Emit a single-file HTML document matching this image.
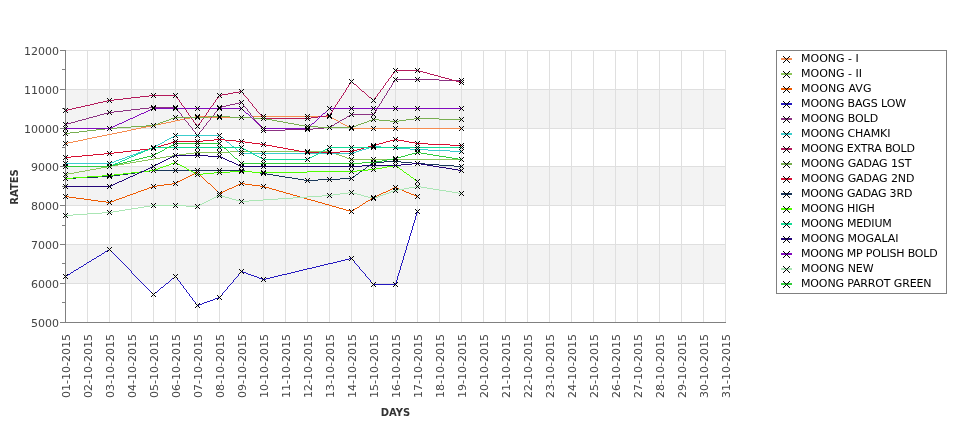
<!DOCTYPE html><html><head><meta charset="utf-8"><style>html,body{margin:0;padding:0;background:#fff;}svg{display:block;will-change:transform;}text{font-family:"DejaVu Sans","Liberation Sans",sans-serif;}</style></head><body>
<svg width="975" height="429" viewBox="0 0 975 429">
<rect width="975" height="429" fill="#fff"/>
<rect x="66" y="89" width="660" height="39" fill="#f3f3f3"/>
<rect x="66" y="166" width="660" height="39" fill="#f3f3f3"/>
<rect x="66" y="244" width="660" height="39" fill="#f3f3f3"/>
<path d="M87.5 50V322 M109.5 50V322 M131.5 50V322 M153.5 50V322 M175.5 50V322 M197.5 50V322 M219.5 50V322 M241.5 50V322 M263.5 50V322 M285.5 50V322 M307.5 50V322 M329.5 50V322 M351.5 50V322 M373.5 50V322 M395.5 50V322 M417.5 50V322 M439.5 50V322 M461.5 50V322 M483.5 50V322 M505.5 50V322 M527.5 50V322 M549.5 50V322 M571.5 50V322 M593.5 50V322 M615.5 50V322 M637.5 50V322 M659.5 50V322 M681.5 50V322 M703.5 50V322 M725.5 50V322 M66 50.5H726 M66 89.5H726 M66 128.5H726 M66 166.5H726 M66 205.5H726 M66 244.5H726 M66 283.5H726" stroke="#dfdfdf" stroke-width="1" fill="none" shape-rendering="crispEdges"/>
<path d="M65.5 50V322.5 M60 322.5H726 M60 50.5H65 M60 89.5H65 M60 128.5H65 M60 166.5H65 M60 205.5H65 M60 244.5H65 M60 283.5H65 M60 322.5H65 M62 69.5H65 M62 108.5H65 M62 147.5H65 M62 186.5H65 M62 225.5H65 M62 263.5H65 M62 302.5H65" stroke="#808080" stroke-width="1" fill="none" shape-rendering="crispEdges"/>
<text x="59" y="55" font-size="11" fill="#444" text-anchor="end">12000</text>
<text x="59" y="94" font-size="11" fill="#444" text-anchor="end">11000</text>
<text x="59" y="133" font-size="11" fill="#444" text-anchor="end">10000</text>
<text x="59" y="171" font-size="11" fill="#444" text-anchor="end">9000</text>
<text x="59" y="210" font-size="11" fill="#444" text-anchor="end">8000</text>
<text x="59" y="249" font-size="11" fill="#444" text-anchor="end">7000</text>
<text x="59" y="288" font-size="11" fill="#444" text-anchor="end">6000</text>
<text x="59" y="327" font-size="11" fill="#444" text-anchor="end">5000</text>
<text transform="translate(70,398) rotate(-90)" font-size="11" fill="#444">01-10-2015</text>
<text transform="translate(92,398) rotate(-90)" font-size="11" fill="#444">02-10-2015</text>
<text transform="translate(114,398) rotate(-90)" font-size="11" fill="#444">03-10-2015</text>
<text transform="translate(136,398) rotate(-90)" font-size="11" fill="#444">04-10-2015</text>
<text transform="translate(158,398) rotate(-90)" font-size="11" fill="#444">05-10-2015</text>
<text transform="translate(180,398) rotate(-90)" font-size="11" fill="#444">06-10-2015</text>
<text transform="translate(202,398) rotate(-90)" font-size="11" fill="#444">07-10-2015</text>
<text transform="translate(224,398) rotate(-90)" font-size="11" fill="#444">08-10-2015</text>
<text transform="translate(246,398) rotate(-90)" font-size="11" fill="#444">09-10-2015</text>
<text transform="translate(268,398) rotate(-90)" font-size="11" fill="#444">10-10-2015</text>
<text transform="translate(290,398) rotate(-90)" font-size="11" fill="#444">11-10-2015</text>
<text transform="translate(312,398) rotate(-90)" font-size="11" fill="#444">12-10-2015</text>
<text transform="translate(334,398) rotate(-90)" font-size="11" fill="#444">13-10-2015</text>
<text transform="translate(356,398) rotate(-90)" font-size="11" fill="#444">14-10-2015</text>
<text transform="translate(378,398) rotate(-90)" font-size="11" fill="#444">15-10-2015</text>
<text transform="translate(400,398) rotate(-90)" font-size="11" fill="#444">16-10-2015</text>
<text transform="translate(422,398) rotate(-90)" font-size="11" fill="#444">17-10-2015</text>
<text transform="translate(444,398) rotate(-90)" font-size="11" fill="#444">18-10-2015</text>
<text transform="translate(466,398) rotate(-90)" font-size="11" fill="#444">19-10-2015</text>
<text transform="translate(488,398) rotate(-90)" font-size="11" fill="#444">20-10-2015</text>
<text transform="translate(510,398) rotate(-90)" font-size="11" fill="#444">21-10-2015</text>
<text transform="translate(532,398) rotate(-90)" font-size="11" fill="#444">22-10-2015</text>
<text transform="translate(554,398) rotate(-90)" font-size="11" fill="#444">23-10-2015</text>
<text transform="translate(576,398) rotate(-90)" font-size="11" fill="#444">24-10-2015</text>
<text transform="translate(598,398) rotate(-90)" font-size="11" fill="#444">25-10-2015</text>
<text transform="translate(620,398) rotate(-90)" font-size="11" fill="#444">26-10-2015</text>
<text transform="translate(642,398) rotate(-90)" font-size="11" fill="#444">27-10-2015</text>
<text transform="translate(664,398) rotate(-90)" font-size="11" fill="#444">28-10-2015</text>
<text transform="translate(686,398) rotate(-90)" font-size="11" fill="#444">29-10-2015</text>
<text transform="translate(708,398) rotate(-90)" font-size="11" fill="#444">30-10-2015</text>
<text transform="translate(730,398) rotate(-90)" font-size="11" fill="#444">31-10-2015</text>
<defs><filter id="crisp" x="-10%" y="-10%" width="120%" height="120%"><feComponentTransfer><feFuncA type="discrete" tableValues="0 0 1 1"/></feComponentTransfer></filter></defs>
<g><text transform="translate(18,187) rotate(-90)" font-size="10" font-weight="bold" fill="#333" text-anchor="middle">RATES</text>
<text x="395.5" y="416" font-size="10" font-weight="bold" fill="#333" text-anchor="middle">DAYS</text></g>
<path d="M190 117h5v1h-5zM208 117h44v1h-44zM330 117h2v1h-2zM83 139h4v1h-4zM195 116h13v1h-13zM252 116h78v1h-78zM141 127h5v1h-5zM349 127h2v1h-2zM136 128h5v1h-5zM351 128h111v1h-111zM97 136h5v1h-5zM65 143h3v1h-3zM151 125h5v1h-5zM345 125h2v1h-2zM171 121h4v1h-4zM338 121h2v1h-2zM112 133h5v1h-5zM78 140h5v1h-5zM161 123h5v1h-5zM341 123h2v1h-2zM131 129h5v1h-5zM180 119h5v1h-5zM334 119h2v1h-2zM92 137h5v1h-5zM185 118h5v1h-5zM332 118h2v1h-2zM117 132h5v1h-5zM166 122h5v1h-5zM340 122h1v1h-1zM127 130h4v1h-4zM146 126h5v1h-5zM347 126h2v1h-2zM87 138h5v1h-5zM73 141h5v1h-5zM175 120h5v1h-5zM336 120h2v1h-2zM107 134h5v1h-5zM68 142h5v1h-5zM102 135h5v1h-5zM156 124h5v1h-5zM343 124h2v1h-2zM122 131h5v1h-5z" fill="#f58c50" shape-rendering="crispEdges"/>
<path d="M148 159h6v1h-6zM350 159h112v1h-112zM172 155h7v1h-7zM339 155h3v1h-3zM230 151h101v1h-101zM124 163h6v1h-6zM160 157h6v1h-6zM345 157h2v1h-2zM154 158h6v1h-6zM347 158h3v1h-3zM112 165h6v1h-6zM90 169h6v1h-6zM194 152h36v1h-36zM331 152h3v1h-3zM85 170h5v1h-5zM101 167h6v1h-6zM142 160h6v1h-6zM107 166h5v1h-5zM79 171h6v1h-6zM65 174h3v1h-3zM179 154h7v1h-7zM336 154h3v1h-3zM74 172h5v1h-5zM130 162h6v1h-6zM186 153h8v1h-8zM334 153h2v1h-2zM166 156h6v1h-6zM342 156h3v1h-3zM136 161h6v1h-6zM68 173h6v1h-6zM96 168h5v1h-5zM118 164h6v1h-6z" fill="#8ec65c" shape-rendering="crispEdges"/>
<path d="M91 200h7v1h-7zM114 200h2v1h-2zM311 200h4v1h-4zM368 200h2v1h-2zM133 193h3v1h-3zM219 193h2v1h-2zM286 193h4v1h-4zM381 193h2v1h-2zM409 193h2v1h-2zM157 185h7v1h-7zM211 185h1v1h-1zM236 185h2v1h-2zM252 185h8v1h-8zM127 195h3v1h-3zM293 195h4v1h-4zM377 195h2v1h-2zM414 195h2v1h-2zM149 187h3v1h-3zM213 187h1v1h-1zM232 187h2v1h-2zM265 187h4v1h-4zM394 187h3v1h-3zM84 199h7v1h-7zM116 199h3v1h-3zM307 199h4v1h-4zM370 199h1v1h-1zM196 172h2v1h-2zM76 198h8v1h-8zM119 198h3v1h-3zM304 198h3v1h-3zM371 198h2v1h-2zM325 204h4v1h-4zM362 204h1v1h-1zM164 184h8v1h-8zM210 184h1v1h-1zM238 184h2v1h-2zM245 184h7v1h-7zM343 209h3v1h-3zM354 209h1v1h-1zM144 189h3v1h-3zM215 189h1v1h-1zM227 189h2v1h-2zM272 189h4v1h-4zM390 189h2v1h-2zM399 189h3v1h-3zM98 201h8v1h-8zM111 201h3v1h-3zM315 201h3v1h-3zM366 201h2v1h-2zM147 188h2v1h-2zM214 188h1v1h-1zM229 188h3v1h-3zM269 188h3v1h-3zM392 188h2v1h-2zM397 188h2v1h-2zM69 197h7v1h-7zM122 197h3v1h-3zM300 197h4v1h-4zM373 197h2v1h-2zM141 190h3v1h-3zM216 190h1v1h-1zM225 190h2v1h-2zM276 190h3v1h-3zM388 190h2v1h-2zM402 190h2v1h-2zM136 192h2v1h-2zM218 192h1v1h-1zM221 192h2v1h-2zM283 192h3v1h-3zM383 192h3v1h-3zM406 192h3v1h-3zM65 196h4v1h-4zM125 196h2v1h-2zM297 196h3v1h-3zM375 196h2v1h-2zM416 196h2v1h-2zM172 183h4v1h-4zM208 183h2v1h-2zM240 183h5v1h-5zM106 202h5v1h-5zM318 202h4v1h-4zM365 202h1v1h-1zM192 174h2v1h-2zM199 174h1v1h-1zM350 211h2v1h-2zM138 191h3v1h-3zM217 191h1v1h-1zM223 191h2v1h-2zM279 191h4v1h-4zM386 191h2v1h-2zM404 191h2v1h-2zM322 203h3v1h-3zM363 203h2v1h-2zM130 194h3v1h-3zM290 194h3v1h-3zM379 194h2v1h-2zM411 194h3v1h-3zM184 178h2v1h-2zM203 178h1v1h-1zM346 210h4v1h-4zM352 210h2v1h-2zM152 186h5v1h-5zM212 186h1v1h-1zM234 186h2v1h-2zM260 186h5v1h-5zM188 176h2v1h-2zM201 176h1v1h-1zM186 177h2v1h-2zM202 177h1v1h-1zM329 205h3v1h-3zM360 205h2v1h-2zM194 173h2v1h-2zM198 173h1v1h-1zM332 206h4v1h-4zM359 206h1v1h-1zM336 207h3v1h-3zM357 207h2v1h-2zM182 179h2v1h-2zM204 179h1v1h-1zM339 208h4v1h-4zM355 208h2v1h-2zM178 181h2v1h-2zM206 181h1v1h-1zM180 180h2v1h-2zM205 180h1v1h-1zM190 175h2v1h-2zM200 175h1v1h-1zM176 182h2v1h-2zM207 182h1v1h-1z" fill="#ee5a00" shape-rendering="crispEdges"/>
<path d="M140 281h1v1h-1zM169 281h1v1h-1zM179 281h1v1h-1zM233 281h1v1h-1zM370 281h1v1h-1zM396 281h1v1h-1zM74 270h2v1h-2zM130 270h1v1h-1zM299 270h4v1h-4zM361 270h1v1h-1zM399 270h1v1h-1zM68 274h2v1h-2zM133 274h1v1h-1zM238 274h1v1h-1zM248 274h3v1h-3zM282 274h5v1h-5zM365 274h1v1h-1zM398 274h1v1h-1zM70 273h1v1h-1zM132 273h1v1h-1zM239 273h1v1h-1zM246 273h2v1h-2zM287 273h4v1h-4zM364 273h1v1h-1zM398 273h1v1h-1zM195 302h1v1h-1zM204 302h3v1h-3zM141 282h1v1h-1zM168 282h1v1h-1zM180 282h1v1h-1zM232 282h1v1h-1zM371 282h1v1h-1zM396 282h1v1h-1zM83 265h1v1h-1zM125 265h1v1h-1zM320 265h4v1h-4zM357 265h1v1h-1zM401 265h1v1h-1zM92 259h2v1h-2zM119 259h1v1h-1zM345 259h4v1h-4zM352 259h1v1h-1zM403 259h1v1h-1zM407 243h1v1h-1zM84 264h2v1h-2zM124 264h1v1h-1zM324 264h4v1h-4zM356 264h1v1h-1zM401 264h1v1h-1zM105 251h2v1h-2zM111 251h1v1h-1zM405 251h1v1h-1zM145 286h1v1h-1zM163 286h1v1h-1zM183 286h1v1h-1zM228 286h1v1h-1zM78 268h1v1h-1zM128 268h1v1h-1zM307 268h5v1h-5zM359 268h1v1h-1zM400 268h1v1h-1zM153 294h1v1h-1zM189 294h1v1h-1zM222 294h1v1h-1zM143 284h1v1h-1zM165 284h1v1h-1zM181 284h1v1h-1zM230 284h1v1h-1zM373 284h23v1h-23zM147 288h1v1h-1zM160 288h1v1h-1zM184 288h1v1h-1zM227 288h1v1h-1zM193 300h1v1h-1zM210 300h3v1h-3zM73 271h1v1h-1zM131 271h1v1h-1zM241 271h2v1h-2zM295 271h4v1h-4zM362 271h1v1h-1zM399 271h1v1h-1zM148 289h1v1h-1zM159 289h1v1h-1zM185 289h1v1h-1zM226 289h1v1h-1zM151 292h1v1h-1zM155 292h2v1h-2zM187 292h1v1h-1zM223 292h1v1h-1zM136 277h1v1h-1zM174 277h1v1h-1zM176 277h1v1h-1zM236 277h1v1h-1zM257 277h2v1h-2zM270 277h4v1h-4zM367 277h1v1h-1zM397 277h1v1h-1zM138 279h1v1h-1zM171 279h1v1h-1zM177 279h1v1h-1zM234 279h1v1h-1zM262 279h4v1h-4zM369 279h1v1h-1zM397 279h1v1h-1zM137 278h1v1h-1zM172 278h2v1h-2zM177 278h1v1h-1zM235 278h1v1h-1zM259 278h3v1h-3zM266 278h4v1h-4zM368 278h1v1h-1zM397 278h1v1h-1zM139 280h1v1h-1zM170 280h1v1h-1zM178 280h1v1h-1zM233 280h1v1h-1zM370 280h1v1h-1zM396 280h1v1h-1zM79 267h2v1h-2zM127 267h1v1h-1zM312 267h4v1h-4zM359 267h1v1h-1zM400 267h1v1h-1zM411 231h1v1h-1zM87 262h2v1h-2zM122 262h1v1h-1zM333 262h4v1h-4zM354 262h1v1h-1zM402 262h1v1h-1zM196 304h1v1h-1zM199 304h3v1h-3zM97 256h2v1h-2zM116 256h1v1h-1zM403 256h1v1h-1zM89 261h2v1h-2zM121 261h1v1h-1zM337 261h4v1h-4zM354 261h1v1h-1zM402 261h1v1h-1zM415 219h1v1h-1zM81 266h2v1h-2zM126 266h1v1h-1zM316 266h4v1h-4zM358 266h1v1h-1zM400 266h1v1h-1zM102 253h2v1h-2zM113 253h1v1h-1zM404 253h1v1h-1zM146 287h1v1h-1zM161 287h2v1h-2zM183 287h1v1h-1zM227 287h1v1h-1zM94 258h2v1h-2zM118 258h1v1h-1zM349 258h3v1h-3zM403 258h1v1h-1zM406 246h1v1h-1zM142 283h1v1h-1zM166 283h2v1h-2zM180 283h1v1h-1zM231 283h1v1h-1zM372 283h1v1h-1zM395 283h1v1h-1zM101 254h1v1h-1zM114 254h1v1h-1zM404 254h1v1h-1zM410 234h1v1h-1zM65 276h1v1h-1zM135 276h1v1h-1zM175 276h1v1h-1zM237 276h1v1h-1zM254 276h3v1h-3zM274 276h4v1h-4zM366 276h1v1h-1zM397 276h1v1h-1zM76 269h2v1h-2zM129 269h1v1h-1zM303 269h4v1h-4zM360 269h1v1h-1zM400 269h1v1h-1zM191 297h1v1h-1zM218 297h2v1h-2zM152 293h1v1h-1zM154 293h1v1h-1zM188 293h1v1h-1zM222 293h1v1h-1zM86 263h1v1h-1zM123 263h1v1h-1zM328 263h5v1h-5zM355 263h1v1h-1zM401 263h1v1h-1zM411 230h1v1h-1zM192 299h1v1h-1zM213 299h2v1h-2zM91 260h1v1h-1zM120 260h1v1h-1zM341 260h4v1h-4zM353 260h1v1h-1zM402 260h1v1h-1zM415 218h1v1h-1zM197 305h2v1h-2zM194 301h1v1h-1zM207 301h3v1h-3zM414 222h1v1h-1zM410 233h1v1h-1zM150 291h1v1h-1zM157 291h1v1h-1zM186 291h1v1h-1zM224 291h1v1h-1zM409 237h1v1h-1zM71 272h2v1h-2zM131 272h1v1h-1zM240 272h1v1h-1zM243 272h3v1h-3zM291 272h4v1h-4zM363 272h1v1h-1zM399 272h1v1h-1zM66 275h2v1h-2zM134 275h1v1h-1zM238 275h1v1h-1zM251 275h3v1h-3zM278 275h4v1h-4zM365 275h1v1h-1zM398 275h1v1h-1zM109 249h1v1h-1zM406 249h1v1h-1zM413 225h1v1h-1zM149 290h1v1h-1zM158 290h1v1h-1zM186 290h1v1h-1zM225 290h1v1h-1zM409 236h1v1h-1zM195 303h1v1h-1zM202 303h2v1h-2zM104 252h1v1h-1zM112 252h1v1h-1zM405 252h1v1h-1zM413 224h1v1h-1zM99 255h2v1h-2zM115 255h1v1h-1zM404 255h1v1h-1zM417 212h1v1h-1zM192 298h1v1h-1zM215 298h3v1h-3zM412 227h1v1h-1zM416 215h1v1h-1zM413 223h1v1h-1zM412 226h1v1h-1zM416 214h1v1h-1zM144 285h1v1h-1zM164 285h1v1h-1zM182 285h1v1h-1zM229 285h1v1h-1zM408 242h1v1h-1zM107 250h2v1h-2zM110 250h1v1h-1zM405 250h1v1h-1zM96 257h1v1h-1zM117 257h1v1h-1zM403 257h1v1h-1zM407 245h1v1h-1zM415 217h1v1h-1zM414 221h1v1h-1zM406 248h1v1h-1zM415 216h1v1h-1zM414 220h1v1h-1zM406 247h1v1h-1zM410 235h1v1h-1zM409 239h1v1h-1zM417 211h1v1h-1zM189 295h1v1h-1zM221 295h1v1h-1zM409 238h1v1h-1zM416 213h1v1h-1zM408 241h1v1h-1zM412 229h1v1h-1zM407 244h1v1h-1zM190 296h1v1h-1zM220 296h1v1h-1zM408 240h1v1h-1zM412 228h1v1h-1zM411 232h1v1h-1z" fill="#2418c0" shape-rendering="crispEdges"/>
<path d="M192 129h1v1h-1zM202 129h1v1h-1zM262 129h1v1h-1zM285 129h28v1h-28zM104 113h4v1h-4zM180 113h1v1h-1zM214 113h1v1h-1zM250 113h1v1h-1zM374 113h1v1h-1zM93 116h4v1h-4zM182 116h1v1h-1zM212 116h1v1h-1zM252 116h1v1h-1zM347 116h2v1h-2zM86 118h3v1h-3zM184 118h1v1h-1zM210 118h1v1h-1zM254 118h1v1h-1zM344 118h2v1h-2zM149 107h27v1h-27zM219 107h3v1h-3zM245 107h1v1h-1zM377 107h1v1h-1zM123 110h8v1h-8zM177 110h1v1h-1zM217 110h1v1h-1zM247 110h1v1h-1zM376 110h1v1h-1zM89 117h4v1h-4zM183 117h1v1h-1zM211 117h1v1h-1zM253 117h1v1h-1zM346 117h1v1h-1zM100 114h4v1h-4zM181 114h1v1h-1zM214 114h1v1h-1zM250 114h1v1h-1zM351 114h23v1h-23zM82 119h4v1h-4zM184 119h1v1h-1zM210 119h1v1h-1zM254 119h1v1h-1zM342 119h2v1h-2zM65 124h2v1h-2zM188 124h1v1h-1zM206 124h1v1h-1zM258 124h1v1h-1zM334 124h1v1h-1zM140 108h9v1h-9zM176 108h1v1h-1zM218 108h1v1h-1zM246 108h1v1h-1zM377 108h1v1h-1zM193 130h1v1h-1zM201 130h1v1h-1zM263 130h22v1h-22zM78 120h4v1h-4zM185 120h1v1h-1zM209 120h1v1h-1zM255 120h1v1h-1zM340 120h2v1h-2zM114 111h9v1h-9zM178 111h1v1h-1zM216 111h1v1h-1zM248 111h1v1h-1zM375 111h1v1h-1zM192 128h1v1h-1zM203 128h1v1h-1zM261 128h1v1h-1zM313 128h11v1h-11zM395 79h44v1h-44zM394 80h1v1h-1zM439 80h23v1h-23zM230 104h5v1h-5zM243 104h1v1h-1zM379 104h1v1h-1zM388 90h1v1h-1zM189 125h1v1h-1zM205 125h1v1h-1zM259 125h1v1h-1zM332 125h2v1h-2zM239 102h3v1h-3zM381 102h1v1h-1zM392 83h1v1h-1zM384 97h1v1h-1zM190 126h1v1h-1zM204 126h1v1h-1zM260 126h1v1h-1zM330 126h2v1h-2zM226 105h4v1h-4zM243 105h1v1h-1zM379 105h1v1h-1zM197 135h1v1h-1zM71 122h4v1h-4zM187 122h1v1h-1zM207 122h1v1h-1zM257 122h1v1h-1zM337 122h2v1h-2zM131 109h9v1h-9zM177 109h1v1h-1zM217 109h1v1h-1zM247 109h1v1h-1zM376 109h1v1h-1zM235 103h4v1h-4zM242 103h1v1h-1zM380 103h1v1h-1zM67 123h4v1h-4zM188 123h1v1h-1zM206 123h1v1h-1zM258 123h1v1h-1zM335 123h2v1h-2zM75 121h3v1h-3zM186 121h1v1h-1zM208 121h1v1h-1zM256 121h1v1h-1zM339 121h1v1h-1zM108 112h6v1h-6zM179 112h1v1h-1zM215 112h1v1h-1zM249 112h1v1h-1zM374 112h1v1h-1zM384 96h1v1h-1zM196 134h1v1h-1zM198 134h1v1h-1zM391 85h1v1h-1zM97 115h3v1h-3zM181 115h1v1h-1zM213 115h1v1h-1zM251 115h1v1h-1zM349 115h2v1h-2zM387 92h1v1h-1zM194 131h1v1h-1zM200 131h1v1h-1zM191 127h1v1h-1zM203 127h1v1h-1zM261 127h1v1h-1zM324 127h6v1h-6zM383 98h1v1h-1zM195 132h1v1h-1zM199 132h1v1h-1zM387 91h1v1h-1zM390 87h1v1h-1zM386 94h1v1h-1zM195 133h1v1h-1zM199 133h1v1h-1zM386 93h1v1h-1zM382 100h1v1h-1zM222 106h4v1h-4zM244 106h1v1h-1zM378 106h1v1h-1zM393 82h1v1h-1zM389 89h1v1h-1zM392 84h1v1h-1zM391 86h1v1h-1zM382 99h1v1h-1zM385 95h1v1h-1zM394 81h1v1h-1zM389 88h1v1h-1zM381 101h1v1h-1z" fill="#8c3282" shape-rendering="crispEdges"/>
<path d="M136 153h2v1h-2zM241 153h112v1h-112zM147 149h2v1h-2zM236 149h1v1h-1zM362 149h4v1h-4zM410 149h18v1h-18zM119 159h3v1h-3zM154 146h2v1h-2zM232 146h2v1h-2zM372 146h9v1h-9zM175 135h45v1h-45zM65 163h46v1h-46zM152 147h2v1h-2zM234 147h1v1h-1zM369 147h3v1h-3zM381 147h14v1h-14zM144 150h3v1h-3zM237 150h1v1h-1zM359 150h3v1h-3zM428 150h22v1h-22zM162 142h2v1h-2zM227 142h2v1h-2zM141 151h3v1h-3zM238 151h2v1h-2zM356 151h3v1h-3zM450 151h12v1h-12zM149 148h3v1h-3zM235 148h1v1h-1zM366 148h3v1h-3zM395 148h15v1h-15zM130 155h3v1h-3zM158 144h2v1h-2zM230 144h1v1h-1zM127 156h3v1h-3zM169 138h2v1h-2zM223 138h1v1h-1zM116 160h3v1h-3zM138 152h3v1h-3zM240 152h1v1h-1zM353 152h3v1h-3zM122 158h3v1h-3zM133 154h3v1h-3zM173 136h2v1h-2zM220 136h1v1h-1zM111 162h3v1h-3zM160 143h2v1h-2zM229 143h1v1h-1zM165 140h2v1h-2zM225 140h1v1h-1zM114 161h2v1h-2zM125 157h2v1h-2zM156 145h2v1h-2zM231 145h1v1h-1zM167 139h2v1h-2zM224 139h1v1h-1zM171 137h2v1h-2zM221 137h2v1h-2zM164 141h1v1h-1zM226 141h1v1h-1z" fill="#3ccdcd" shape-rendering="crispEdges"/>
<path d="M90 104h4v1h-4zM181 104h1v1h-1zM213 104h1v1h-1zM252 104h1v1h-1zM336 104h1v1h-1zM76 107h5v1h-5zM184 107h1v1h-1zM210 107h1v1h-1zM254 107h1v1h-1zM334 107h1v1h-1zM114 99h9v1h-9zM178 99h1v1h-1zM216 99h1v1h-1zM248 99h1v1h-1zM339 99h1v1h-1zM372 99h1v1h-1zM374 99h1v1h-1zM392 74h1v1h-1zM430 74h4v1h-4zM349 84h1v1h-1zM354 84h2v1h-2zM385 84h1v1h-1zM228 93h5v1h-5zM243 93h1v1h-1zM343 93h1v1h-1zM365 93h1v1h-1zM378 93h1v1h-1zM140 96h9v1h-9zM176 96h1v1h-1zM218 96h1v1h-1zM245 96h1v1h-1zM341 96h1v1h-1zM368 96h1v1h-1zM376 96h1v1h-1zM191 118h1v1h-1zM203 118h1v1h-1zM263 118h48v1h-48zM388 79h1v1h-1zM449 79h3v1h-3zM103 101h4v1h-4zM179 101h1v1h-1zM215 101h1v1h-1zM249 101h1v1h-1zM338 101h1v1h-1zM191 117h1v1h-1zM203 117h1v1h-1zM262 117h1v1h-1zM311 117h7v1h-7zM389 78h1v1h-1zM445 78h4v1h-4zM222 94h6v1h-6zM243 94h1v1h-1zM343 94h1v1h-1zM366 94h1v1h-1zM377 94h1v1h-1zM395 70h24v1h-24zM81 106h4v1h-4zM183 106h1v1h-1zM211 106h1v1h-1zM253 106h1v1h-1zM335 106h1v1h-1zM388 80h1v1h-1zM452 80h4v1h-4zM149 95h27v1h-27zM219 95h3v1h-3zM244 95h1v1h-1zM342 95h1v1h-1zM367 95h1v1h-1zM377 95h1v1h-1zM190 116h1v1h-1zM204 116h1v1h-1zM261 116h1v1h-1zM318 116h8v1h-8zM233 92h6v1h-6zM242 92h1v1h-1zM344 92h1v1h-1zM364 92h1v1h-1zM379 92h1v1h-1zM94 103h4v1h-4zM181 103h1v1h-1zM213 103h1v1h-1zM251 103h1v1h-1zM337 103h1v1h-1zM189 115h1v1h-1zM205 115h1v1h-1zM261 115h1v1h-1zM326 115h4v1h-4zM193 120h1v1h-1zM201 120h1v1h-1zM123 98h8v1h-8zM177 98h1v1h-1zM217 98h1v1h-1zM247 98h1v1h-1zM340 98h1v1h-1zM371 98h1v1h-1zM374 98h1v1h-1zM239 91h3v1h-3zM345 91h1v1h-1zM362 91h2v1h-2zM380 91h1v1h-1zM351 81h1v1h-1zM387 81h1v1h-1zM456 81h4v1h-4zM131 97h9v1h-9zM176 97h1v1h-1zM218 97h1v1h-1zM246 97h1v1h-1zM341 97h1v1h-1zM369 97h2v1h-2zM375 97h1v1h-1zM107 100h7v1h-7zM179 100h1v1h-1zM215 100h1v1h-1zM248 100h1v1h-1zM339 100h1v1h-1zM373 100h1v1h-1zM346 88h1v1h-1zM359 88h1v1h-1zM382 88h1v1h-1zM197 126h1v1h-1zM85 105h5v1h-5zM182 105h1v1h-1zM212 105h1v1h-1zM252 105h1v1h-1zM335 105h1v1h-1zM391 75h1v1h-1zM434 75h4v1h-4zM65 110h3v1h-3zM186 110h1v1h-1zM208 110h1v1h-1zM256 110h1v1h-1zM332 110h1v1h-1zM345 90h1v1h-1zM361 90h1v1h-1zM380 90h1v1h-1zM72 108h4v1h-4zM184 108h1v1h-1zM210 108h1v1h-1zM255 108h1v1h-1zM334 108h1v1h-1zM348 86h1v1h-1zM357 86h1v1h-1zM383 86h1v1h-1zM98 102h5v1h-5zM180 102h1v1h-1zM214 102h1v1h-1zM250 102h1v1h-1zM337 102h1v1h-1zM196 125h1v1h-1zM198 125h1v1h-1zM350 82h1v1h-1zM352 82h1v1h-1zM386 82h1v1h-1zM460 82h2v1h-2zM68 109h4v1h-4zM185 109h1v1h-1zM209 109h1v1h-1zM256 109h1v1h-1zM333 109h1v1h-1zM390 77h1v1h-1zM441 77h4v1h-4zM391 76h1v1h-1zM438 76h3v1h-3zM186 111h1v1h-1zM208 111h1v1h-1zM257 111h1v1h-1zM332 111h1v1h-1zM194 122h1v1h-1zM200 122h1v1h-1zM196 124h1v1h-1zM198 124h1v1h-1zM394 71h1v1h-1zM419 71h4v1h-4zM348 85h1v1h-1zM356 85h1v1h-1zM384 85h1v1h-1zM393 73h1v1h-1zM427 73h3v1h-3zM394 72h1v1h-1zM423 72h4v1h-4zM188 113h1v1h-1zM206 113h1v1h-1zM259 113h1v1h-1zM330 113h1v1h-1zM350 83h1v1h-1zM353 83h1v1h-1zM385 83h1v1h-1zM187 112h1v1h-1zM207 112h1v1h-1zM258 112h1v1h-1zM331 112h1v1h-1zM188 114h1v1h-1zM206 114h1v1h-1zM260 114h1v1h-1zM330 114h1v1h-1zM195 123h1v1h-1zM199 123h1v1h-1zM192 119h1v1h-1zM202 119h1v1h-1zM346 89h1v1h-1zM360 89h1v1h-1zM381 89h1v1h-1zM347 87h1v1h-1zM358 87h1v1h-1zM383 87h1v1h-1zM193 121h1v1h-1zM201 121h1v1h-1z" fill="#b4195a" shape-rendering="crispEdges"/>
<path d="M174 117h34v1h-34zM230 117h22v1h-22zM163 121h3v1h-3zM277 121h6v1h-6zM367 121h2v1h-2zM390 121h9v1h-9zM117 127h14v1h-14zM318 127h35v1h-35zM166 120h3v1h-3zM272 120h5v1h-5zM369 120h3v1h-3zM379 120h11v1h-11zM399 120h7v1h-7zM158 123h2v1h-2zM288 123h6v1h-6zM361 123h3v1h-3zM79 131h8v1h-8zM171 118h3v1h-3zM252 118h14v1h-14zM414 118h25v1h-25zM131 126h15v1h-15zM305 126h13v1h-13zM353 126h3v1h-3zM146 125h9v1h-9zM299 125h6v1h-6zM356 125h2v1h-2zM96 129h9v1h-9zM70 132h9v1h-9zM155 124h3v1h-3zM294 124h5v1h-5zM358 124h3v1h-3zM87 130h9v1h-9zM169 119h2v1h-2zM266 119h6v1h-6zM372 119h7v1h-7zM406 119h8v1h-8zM439 119h23v1h-23zM208 116h22v1h-22zM105 128h12v1h-12zM160 122h3v1h-3zM283 122h5v1h-5zM364 122h3v1h-3zM65 133h5v1h-5z" fill="#78af50" shape-rendering="crispEdges"/>
<path d="M203 140h11v1h-11zM225 140h11v1h-11zM390 140h4v1h-4zM398 140h6v1h-6zM114 152h9v1h-9zM305 152h35v1h-35zM140 149h9v1h-9zM288 149h6v1h-6zM357 149h4v1h-4zM123 151h8v1h-8zM299 151h6v1h-6zM340 151h13v1h-13zM168 143h3v1h-3zM252 143h8v1h-8zM379 143h4v1h-4zM415 143h13v1h-13zM171 142h3v1h-3zM245 142h7v1h-7zM383 142h3v1h-3zM409 142h6v1h-6zM93 154h11v1h-11zM164 144h4v1h-4zM260 144h6v1h-6zM375 144h4v1h-4zM428 144h22v1h-22zM82 155h11v1h-11zM131 150h9v1h-9zM294 150h5v1h-5zM353 150h4v1h-4zM71 156h11v1h-11zM174 141h29v1h-29zM236 141h9v1h-9zM386 141h4v1h-4zM404 141h5v1h-5zM158 146h3v1h-3zM272 146h5v1h-5zM368 146h4v1h-4zM214 139h11v1h-11zM394 139h4v1h-4zM65 157h6v1h-6zM161 145h3v1h-3zM266 145h6v1h-6zM372 145h3v1h-3zM450 145h12v1h-12zM155 147h3v1h-3zM277 147h6v1h-6zM364 147h4v1h-4zM104 153h10v1h-10zM149 148h6v1h-6zM283 148h5v1h-5zM361 148h3v1h-3z" fill="#d70f32" shape-rendering="crispEdges"/>
<path d="M65 178h11v1h-11zM292 178h6v1h-6zM340 178h12v1h-12zM373 162h11v1h-11zM401 162h11v1h-11zM370 164h1v1h-1zM425 164h14v1h-14zM98 176h15v1h-15zM279 176h6v1h-6zM354 176h1v1h-1zM367 166h2v1h-2zM454 166h8v1h-8zM150 170h95v1h-95zM362 170h1v1h-1zM135 172h7v1h-7zM252 172h8v1h-8zM359 172h1v1h-1zM142 171h8v1h-8zM245 171h7v1h-7zM360 171h2v1h-2zM76 177h22v1h-22zM285 177h7v1h-7zM352 177h2v1h-2zM384 161h17v1h-17zM113 175h7v1h-7zM273 175h6v1h-6zM355 175h1v1h-1zM369 165h1v1h-1zM439 165h15v1h-15zM371 163h2v1h-2zM412 163h13v1h-13zM120 174h8v1h-8zM267 174h6v1h-6zM356 174h2v1h-2zM298 179h6v1h-6zM318 179h22v1h-22zM128 173h7v1h-7zM260 173h7v1h-7zM358 173h1v1h-1zM304 180h14v1h-14zM366 167h1v1h-1zM363 169h2v1h-2zM365 168h1v1h-1z" fill="#19375a" shape-rendering="crispEdges"/>
<path d="M158 168h2v1h-2zM186 168h1v1h-1zM376 168h6v1h-6zM399 168h1v1h-1zM169 164h2v1h-2zM178 164h2v1h-2zM160 167h3v1h-3zM184 167h2v1h-2zM382 167h5v1h-5zM398 167h1v1h-1zM131 172h9v1h-9zM193 172h2v1h-2zM214 172h16v1h-16zM252 172h55v1h-55zM404 172h2v1h-2zM140 171h9v1h-9zM191 171h2v1h-2zM230 171h22v1h-22zM307 171h50v1h-50zM403 171h1v1h-1zM166 165h3v1h-3zM180 165h2v1h-2zM393 165h3v1h-3zM87 176h15v1h-15zM410 176h1v1h-1zM73 177h14v1h-14zM411 177h2v1h-2zM174 162h2v1h-2zM123 173h8v1h-8zM195 173h2v1h-2zM203 173h11v1h-11zM406 173h1v1h-1zM102 175h12v1h-12zM409 175h1v1h-1zM114 174h9v1h-9zM197 174h6v1h-6zM407 174h2v1h-2zM163 166h3v1h-3zM182 166h2v1h-2zM387 166h6v1h-6zM396 166h2v1h-2zM149 170h6v1h-6zM189 170h2v1h-2zM357 170h11v1h-11zM402 170h1v1h-1zM65 178h8v1h-8zM413 178h1v1h-1zM155 169h3v1h-3zM187 169h2v1h-2zM368 169h8v1h-8zM400 169h2v1h-2zM171 163h3v1h-3zM176 163h2v1h-2zM414 179h1v1h-1zM415 180h2v1h-2zM417 181h1v1h-1z" fill="#50ff00" shape-rendering="crispEdges"/>
<path d="M152 147h90v1h-90zM329 147h133v1h-133zM115 163h3v1h-3zM125 159h2v1h-2zM263 159h45v1h-45zM65 166h46v1h-46zM131 156h3v1h-3zM257 156h2v1h-2zM312 156h2v1h-2zM129 157h2v1h-2zM259 157h2v1h-2zM310 157h2v1h-2zM141 152h2v1h-2zM250 152h2v1h-2zM319 152h2v1h-2zM145 150h3v1h-3zM246 150h2v1h-2zM323 150h2v1h-2zM127 158h2v1h-2zM261 158h2v1h-2zM308 158h2v1h-2zM136 154h2v1h-2zM253 154h2v1h-2zM316 154h2v1h-2zM143 151h2v1h-2zM248 151h2v1h-2zM321 151h2v1h-2zM150 148h2v1h-2zM242 148h2v1h-2zM327 148h2v1h-2zM138 153h3v1h-3zM252 153h1v1h-1zM318 153h1v1h-1zM122 160h3v1h-3zM134 155h2v1h-2zM255 155h2v1h-2zM314 155h2v1h-2zM148 149h2v1h-2zM244 149h2v1h-2zM325 149h2v1h-2zM111 165h2v1h-2zM118 162h2v1h-2zM113 164h2v1h-2zM120 161h2v1h-2z" fill="#14dc96" shape-rendering="crispEdges"/>
<path d="M148 168h2v1h-2zM446 168h6v1h-6zM174 155h34v1h-34zM158 163h2v1h-2zM234 163h2v1h-2zM412 163h9v1h-9zM152 166h2v1h-2zM240 166h122v1h-122zM433 166h6v1h-6zM139 172h2v1h-2zM156 164h2v1h-2zM236 164h2v1h-2zM401 164h11v1h-11zM421 164h6v1h-6zM65 186h46v1h-46zM154 165h2v1h-2zM238 165h2v1h-2zM362 165h39v1h-39zM427 165h6v1h-6zM162 161h2v1h-2zM229 161h3v1h-3zM115 183h2v1h-2zM124 179h2v1h-2zM166 159h2v1h-2zM225 159h2v1h-2zM119 181h3v1h-3zM172 156h2v1h-2zM208 156h13v1h-13zM135 174h2v1h-2zM111 185h2v1h-2zM168 158h2v1h-2zM223 158h2v1h-2zM146 169h2v1h-2zM452 169h6v1h-6zM164 160h2v1h-2zM227 160h2v1h-2zM130 176h3v1h-3zM150 167h2v1h-2zM439 167h7v1h-7zM117 182h2v1h-2zM160 162h2v1h-2zM232 162h2v1h-2zM137 173h2v1h-2zM113 184h2v1h-2zM133 175h2v1h-2zM144 170h2v1h-2zM458 170h4v1h-4zM170 157h2v1h-2zM221 157h2v1h-2zM128 177h2v1h-2zM126 178h2v1h-2zM122 180h2v1h-2zM141 171h3v1h-3z" fill="#230578" shape-rendering="crispEdges"/>
<path d="M148 110h2v1h-2zM243 110h1v1h-1zM327 110h1v1h-1zM152 108h90v1h-90zM329 108h133v1h-133zM65 128h46v1h-46zM263 128h45v1h-45zM124 121h2v1h-2zM255 121h1v1h-1zM315 121h1v1h-1zM133 117h2v1h-2zM251 117h1v1h-1zM319 117h1v1h-1zM126 120h2v1h-2zM254 120h1v1h-1zM316 120h1v1h-1zM144 112h2v1h-2zM245 112h1v1h-1zM325 112h1v1h-1zM119 123h3v1h-3zM257 123h2v1h-2zM312 123h2v1h-2zM141 113h3v1h-3zM246 113h2v1h-2zM323 113h2v1h-2zM135 116h2v1h-2zM250 116h1v1h-1zM320 116h1v1h-1zM130 118h3v1h-3zM252 118h1v1h-1zM318 118h1v1h-1zM146 111h2v1h-2zM244 111h1v1h-1zM326 111h1v1h-1zM128 119h2v1h-2zM253 119h1v1h-1zM317 119h1v1h-1zM117 124h2v1h-2zM259 124h1v1h-1zM311 124h1v1h-1zM150 109h2v1h-2zM242 109h1v1h-1zM328 109h1v1h-1zM139 114h2v1h-2zM248 114h1v1h-1zM322 114h1v1h-1zM115 125h2v1h-2zM260 125h1v1h-1zM310 125h1v1h-1zM113 126h2v1h-2zM261 126h1v1h-1zM309 126h1v1h-1zM111 127h2v1h-2zM262 127h1v1h-1zM308 127h1v1h-1zM122 122h2v1h-2zM256 122h1v1h-1zM314 122h1v1h-1zM137 115h2v1h-2zM249 115h1v1h-1zM321 115h1v1h-1z" fill="#820abe" shape-rendering="crispEdges"/>
<path d="M119 210h6v1h-6zM210 199h2v1h-2zM232 199h4v1h-4zM263 199h15v1h-15zM340 193h8v1h-8zM353 193h4v1h-4zM386 193h3v1h-3zM458 193h4v1h-4zM150 205h36v1h-36zM198 205h2v1h-2zM333 194h7v1h-7zM357 194h4v1h-4zM383 194h3v1h-3zM102 212h11v1h-11zM409 187h6v1h-6zM421 187h6v1h-6zM125 209h6v1h-6zM65 215h8v1h-8zM218 195h3v1h-3zM322 195h11v1h-11zM361 195h3v1h-3zM380 195h3v1h-3zM87 213h15v1h-15zM208 200h2v1h-2zM236 200h4v1h-4zM249 200h14v1h-14zM391 191h3v1h-3zM446 191h6v1h-6zM415 186h6v1h-6zM73 214h14v1h-14zM113 211h6v1h-6zM404 188h5v1h-5zM427 188h6v1h-6zM144 206h6v1h-6zM186 206h12v1h-12zM206 201h2v1h-2zM240 201h9v1h-9zM216 196h2v1h-2zM221 196h4v1h-4zM307 196h15v1h-15zM364 196h4v1h-4zM378 196h2v1h-2zM214 197h2v1h-2zM225 197h4v1h-4zM293 197h14v1h-14zM368 197h4v1h-4zM375 197h3v1h-3zM398 189h6v1h-6zM433 189h6v1h-6zM394 190h4v1h-4zM439 190h7v1h-7zM212 198h2v1h-2zM229 198h3v1h-3zM278 198h15v1h-15zM372 198h3v1h-3zM138 207h6v1h-6zM348 192h5v1h-5zM389 192h2v1h-2zM452 192h6v1h-6zM131 208h7v1h-7zM204 202h2v1h-2zM200 204h2v1h-2zM202 203h2v1h-2z" fill="#aae6b4" shape-rendering="crispEdges"/>
<path d="M175 143h45v1h-45zM119 163h4v1h-4zM241 163h121v1h-121zM65 166h46v1h-46zM139 158h4v1h-4zM235 158h2v1h-2zM393 158h4v1h-4zM452 158h6v1h-6zM151 155h3v1h-3zM232 155h1v1h-1zM405 155h3v1h-3zM433 155h6v1h-6zM131 160h4v1h-4zM238 160h1v1h-1zM382 160h5v1h-5zM111 165h4v1h-4zM162 150h2v1h-2zM227 150h1v1h-1zM173 144h2v1h-2zM220 144h1v1h-1zM156 153h2v1h-2zM230 153h1v1h-1zM412 153h4v1h-4zM421 153h6v1h-6zM154 154h2v1h-2zM231 154h1v1h-1zM408 154h4v1h-4zM427 154h6v1h-6zM160 151h2v1h-2zM228 151h1v1h-1zM169 146h2v1h-2zM222 146h1v1h-1zM158 152h2v1h-2zM229 152h1v1h-1zM416 152h5v1h-5zM143 157h4v1h-4zM234 157h1v1h-1zM397 157h4v1h-4zM446 157h6v1h-6zM135 159h4v1h-4zM237 159h1v1h-1zM387 159h6v1h-6zM458 159h4v1h-4zM127 161h4v1h-4zM239 161h1v1h-1zM376 161h6v1h-6zM147 156h4v1h-4zM233 156h1v1h-1zM401 156h4v1h-4zM439 156h7v1h-7zM123 162h4v1h-4zM240 162h1v1h-1zM362 162h14v1h-14zM115 164h4v1h-4zM165 148h2v1h-2zM224 148h2v1h-2zM167 147h2v1h-2zM223 147h1v1h-1zM171 145h2v1h-2zM221 145h1v1h-1zM164 149h1v1h-1zM226 149h1v1h-1z" fill="#32cd3c" shape-rendering="crispEdges"/>
<path d="M63 141h1v1h-1zM63 145h1v1h-1zM64 142h1v1h-1zM64 144h1v1h-1zM65 143h1v1h-1zM66 144h1v1h-1zM66 142h1v1h-1zM67 145h1v1h-1zM67 141h1v1h-1zM195 114h1v1h-1zM195 118h1v1h-1zM196 115h1v1h-1zM196 117h1v1h-1zM197 116h1v1h-1zM198 117h1v1h-1zM198 115h1v1h-1zM199 118h1v1h-1zM199 114h1v1h-1zM217 115h1v1h-1zM217 119h1v1h-1zM218 116h1v1h-1zM218 118h1v1h-1zM219 117h1v1h-1zM220 118h1v1h-1zM220 116h1v1h-1zM221 119h1v1h-1zM221 115h1v1h-1zM239 115h1v1h-1zM239 119h1v1h-1zM240 116h1v1h-1zM240 118h1v1h-1zM241 117h1v1h-1zM242 118h1v1h-1zM242 116h1v1h-1zM243 119h1v1h-1zM243 115h1v1h-1zM261 114h1v1h-1zM261 118h1v1h-1zM262 115h1v1h-1zM262 117h1v1h-1zM263 116h1v1h-1zM264 117h1v1h-1zM264 115h1v1h-1zM265 118h1v1h-1zM265 114h1v1h-1zM305 114h1v1h-1zM305 118h1v1h-1zM306 115h1v1h-1zM306 117h1v1h-1zM307 116h1v1h-1zM308 117h1v1h-1zM308 115h1v1h-1zM309 118h1v1h-1zM309 114h1v1h-1zM327 114h1v1h-1zM327 118h1v1h-1zM328 115h1v1h-1zM328 117h1v1h-1zM329 116h1v1h-1zM330 117h1v1h-1zM330 115h1v1h-1zM331 118h1v1h-1zM331 114h1v1h-1zM349 126h1v1h-1zM349 130h1v1h-1zM350 127h1v1h-1zM350 129h1v1h-1zM351 128h1v1h-1zM352 129h1v1h-1zM352 127h1v1h-1zM353 130h1v1h-1zM353 126h1v1h-1zM371 126h1v1h-1zM371 130h1v1h-1zM372 127h1v1h-1zM372 129h1v1h-1zM373 128h1v1h-1zM374 129h1v1h-1zM374 127h1v1h-1zM375 130h1v1h-1zM375 126h1v1h-1zM393 126h1v1h-1zM393 130h1v1h-1zM394 127h1v1h-1zM394 129h1v1h-1zM395 128h1v1h-1zM396 129h1v1h-1zM396 127h1v1h-1zM397 130h1v1h-1zM397 126h1v1h-1zM459 126h1v1h-1zM459 130h1v1h-1zM460 127h1v1h-1zM460 129h1v1h-1zM461 128h1v1h-1zM462 129h1v1h-1zM462 127h1v1h-1zM463 130h1v1h-1zM463 126h1v1h-1zM63 172h1v1h-1zM63 176h1v1h-1zM64 173h1v1h-1zM64 175h1v1h-1zM65 174h1v1h-1zM66 175h1v1h-1zM66 173h1v1h-1zM67 176h1v1h-1zM67 172h1v1h-1zM107 164h1v1h-1zM107 168h1v1h-1zM108 165h1v1h-1zM108 167h1v1h-1zM109 166h1v1h-1zM110 167h1v1h-1zM110 165h1v1h-1zM111 168h1v1h-1zM111 164h1v1h-1zM173 153h1v1h-1zM173 157h1v1h-1zM174 154h1v1h-1zM174 156h1v1h-1zM175 155h1v1h-1zM176 156h1v1h-1zM176 154h1v1h-1zM177 157h1v1h-1zM177 153h1v1h-1zM195 150h1v1h-1zM195 154h1v1h-1zM196 151h1v1h-1zM196 153h1v1h-1zM197 152h1v1h-1zM198 153h1v1h-1zM198 151h1v1h-1zM199 154h1v1h-1zM199 150h1v1h-1zM217 150h1v1h-1zM217 154h1v1h-1zM218 151h1v1h-1zM218 153h1v1h-1zM219 152h1v1h-1zM220 153h1v1h-1zM220 151h1v1h-1zM221 154h1v1h-1zM221 150h1v1h-1zM239 149h1v1h-1zM239 153h1v1h-1zM240 150h1v1h-1zM240 152h1v1h-1zM241 151h1v1h-1zM242 152h1v1h-1zM242 150h1v1h-1zM243 153h1v1h-1zM243 149h1v1h-1zM305 149h1v1h-1zM305 153h1v1h-1zM306 150h1v1h-1zM306 152h1v1h-1zM307 151h1v1h-1zM308 152h1v1h-1zM308 150h1v1h-1zM309 153h1v1h-1zM309 149h1v1h-1zM327 149h1v1h-1zM327 153h1v1h-1zM328 150h1v1h-1zM328 152h1v1h-1zM329 151h1v1h-1zM330 152h1v1h-1zM330 150h1v1h-1zM331 153h1v1h-1zM331 149h1v1h-1zM349 157h1v1h-1zM349 161h1v1h-1zM350 158h1v1h-1zM350 160h1v1h-1zM351 159h1v1h-1zM352 160h1v1h-1zM352 158h1v1h-1zM353 161h1v1h-1zM353 157h1v1h-1zM371 157h1v1h-1zM371 161h1v1h-1zM372 158h1v1h-1zM372 160h1v1h-1zM373 159h1v1h-1zM374 160h1v1h-1zM374 158h1v1h-1zM375 161h1v1h-1zM375 157h1v1h-1zM393 157h1v1h-1zM393 161h1v1h-1zM394 158h1v1h-1zM394 160h1v1h-1zM395 159h1v1h-1zM396 160h1v1h-1zM396 158h1v1h-1zM397 161h1v1h-1zM397 157h1v1h-1zM459 157h1v1h-1zM459 161h1v1h-1zM460 158h1v1h-1zM460 160h1v1h-1zM461 159h1v1h-1zM462 160h1v1h-1zM462 158h1v1h-1zM463 161h1v1h-1zM463 157h1v1h-1zM63 194h1v1h-1zM63 198h1v1h-1zM64 195h1v1h-1zM64 197h1v1h-1zM65 196h1v1h-1zM66 197h1v1h-1zM66 195h1v1h-1zM67 198h1v1h-1zM67 194h1v1h-1zM107 200h1v1h-1zM107 204h1v1h-1zM108 201h1v1h-1zM108 203h1v1h-1zM109 202h1v1h-1zM110 203h1v1h-1zM110 201h1v1h-1zM111 204h1v1h-1zM111 200h1v1h-1zM151 184h1v1h-1zM151 188h1v1h-1zM152 185h1v1h-1zM152 187h1v1h-1zM153 186h1v1h-1zM154 187h1v1h-1zM154 185h1v1h-1zM155 188h1v1h-1zM155 184h1v1h-1zM173 181h1v1h-1zM173 185h1v1h-1zM174 182h1v1h-1zM174 184h1v1h-1zM175 183h1v1h-1zM176 184h1v1h-1zM176 182h1v1h-1zM177 185h1v1h-1zM177 181h1v1h-1zM195 170h1v1h-1zM195 174h1v1h-1zM196 171h1v1h-1zM196 173h1v1h-1zM197 172h1v1h-1zM198 173h1v1h-1zM198 171h1v1h-1zM199 174h1v1h-1zM199 170h1v1h-1zM217 191h1v1h-1zM217 195h1v1h-1zM218 192h1v1h-1zM218 194h1v1h-1zM219 193h1v1h-1zM220 194h1v1h-1zM220 192h1v1h-1zM221 195h1v1h-1zM221 191h1v1h-1zM239 181h1v1h-1zM239 185h1v1h-1zM240 182h1v1h-1zM240 184h1v1h-1zM241 183h1v1h-1zM242 184h1v1h-1zM242 182h1v1h-1zM243 185h1v1h-1zM243 181h1v1h-1zM261 184h1v1h-1zM261 188h1v1h-1zM262 185h1v1h-1zM262 187h1v1h-1zM263 186h1v1h-1zM264 187h1v1h-1zM264 185h1v1h-1zM265 188h1v1h-1zM265 184h1v1h-1zM349 209h1v1h-1zM349 213h1v1h-1zM350 210h1v1h-1zM350 212h1v1h-1zM351 211h1v1h-1zM352 212h1v1h-1zM352 210h1v1h-1zM353 213h1v1h-1zM353 209h1v1h-1zM371 195h1v1h-1zM371 199h1v1h-1zM372 196h1v1h-1zM372 198h1v1h-1zM373 197h1v1h-1zM374 198h1v1h-1zM374 196h1v1h-1zM375 199h1v1h-1zM375 195h1v1h-1zM393 185h1v1h-1zM393 189h1v1h-1zM394 186h1v1h-1zM394 188h1v1h-1zM395 187h1v1h-1zM396 188h1v1h-1zM396 186h1v1h-1zM397 189h1v1h-1zM397 185h1v1h-1zM415 194h1v1h-1zM415 198h1v1h-1zM416 195h1v1h-1zM416 197h1v1h-1zM417 196h1v1h-1zM418 197h1v1h-1zM418 195h1v1h-1zM419 198h1v1h-1zM419 194h1v1h-1zM63 274h1v1h-1zM63 278h1v1h-1zM64 275h1v1h-1zM64 277h1v1h-1zM65 276h1v1h-1zM66 277h1v1h-1zM66 275h1v1h-1zM67 278h1v1h-1zM67 274h1v1h-1zM107 247h1v1h-1zM107 251h1v1h-1zM108 248h1v1h-1zM108 250h1v1h-1zM109 249h1v1h-1zM110 250h1v1h-1zM110 248h1v1h-1zM111 251h1v1h-1zM111 247h1v1h-1zM151 292h1v1h-1zM151 296h1v1h-1zM152 293h1v1h-1zM152 295h1v1h-1zM153 294h1v1h-1zM154 295h1v1h-1zM154 293h1v1h-1zM155 296h1v1h-1zM155 292h1v1h-1zM173 274h1v1h-1zM173 278h1v1h-1zM174 275h1v1h-1zM174 277h1v1h-1zM175 276h1v1h-1zM176 277h1v1h-1zM176 275h1v1h-1zM177 278h1v1h-1zM177 274h1v1h-1zM195 303h1v1h-1zM195 307h1v1h-1zM196 304h1v1h-1zM196 306h1v1h-1zM197 305h1v1h-1zM198 306h1v1h-1zM198 304h1v1h-1zM199 307h1v1h-1zM199 303h1v1h-1zM217 295h1v1h-1zM217 299h1v1h-1zM218 296h1v1h-1zM218 298h1v1h-1zM219 297h1v1h-1zM220 298h1v1h-1zM220 296h1v1h-1zM221 299h1v1h-1zM221 295h1v1h-1zM239 269h1v1h-1zM239 273h1v1h-1zM240 270h1v1h-1zM240 272h1v1h-1zM241 271h1v1h-1zM242 272h1v1h-1zM242 270h1v1h-1zM243 273h1v1h-1zM243 269h1v1h-1zM261 277h1v1h-1zM261 281h1v1h-1zM262 278h1v1h-1zM262 280h1v1h-1zM263 279h1v1h-1zM264 280h1v1h-1zM264 278h1v1h-1zM265 281h1v1h-1zM265 277h1v1h-1zM349 256h1v1h-1zM349 260h1v1h-1zM350 257h1v1h-1zM350 259h1v1h-1zM351 258h1v1h-1zM352 259h1v1h-1zM352 257h1v1h-1zM353 260h1v1h-1zM353 256h1v1h-1zM371 282h1v1h-1zM371 286h1v1h-1zM372 283h1v1h-1zM372 285h1v1h-1zM373 284h1v1h-1zM374 285h1v1h-1zM374 283h1v1h-1zM375 286h1v1h-1zM375 282h1v1h-1zM393 282h1v1h-1zM393 286h1v1h-1zM394 283h1v1h-1zM394 285h1v1h-1zM395 284h1v1h-1zM396 285h1v1h-1zM396 283h1v1h-1zM397 286h1v1h-1zM397 282h1v1h-1zM415 209h1v1h-1zM415 213h1v1h-1zM416 210h1v1h-1zM416 212h1v1h-1zM417 211h1v1h-1zM418 212h1v1h-1zM418 210h1v1h-1zM419 213h1v1h-1zM419 209h1v1h-1zM63 122h1v1h-1zM63 126h1v1h-1zM64 123h1v1h-1zM64 125h1v1h-1zM65 124h1v1h-1zM66 125h1v1h-1zM66 123h1v1h-1zM67 126h1v1h-1zM67 122h1v1h-1zM107 110h1v1h-1zM107 114h1v1h-1zM108 111h1v1h-1zM108 113h1v1h-1zM109 112h1v1h-1zM110 113h1v1h-1zM110 111h1v1h-1zM111 114h1v1h-1zM111 110h1v1h-1zM151 105h1v1h-1zM151 109h1v1h-1zM152 106h1v1h-1zM152 108h1v1h-1zM153 107h1v1h-1zM154 108h1v1h-1zM154 106h1v1h-1zM155 109h1v1h-1zM155 105h1v1h-1zM173 105h1v1h-1zM173 109h1v1h-1zM174 106h1v1h-1zM174 108h1v1h-1zM175 107h1v1h-1zM176 108h1v1h-1zM176 106h1v1h-1zM177 109h1v1h-1zM177 105h1v1h-1zM195 133h1v1h-1zM195 137h1v1h-1zM196 134h1v1h-1zM196 136h1v1h-1zM197 135h1v1h-1zM198 136h1v1h-1zM198 134h1v1h-1zM199 137h1v1h-1zM199 133h1v1h-1zM217 105h1v1h-1zM217 109h1v1h-1zM218 106h1v1h-1zM218 108h1v1h-1zM219 107h1v1h-1zM220 108h1v1h-1zM220 106h1v1h-1zM221 109h1v1h-1zM221 105h1v1h-1zM239 100h1v1h-1zM239 104h1v1h-1zM240 101h1v1h-1zM240 103h1v1h-1zM241 102h1v1h-1zM242 103h1v1h-1zM242 101h1v1h-1zM243 104h1v1h-1zM243 100h1v1h-1zM261 128h1v1h-1zM261 132h1v1h-1zM262 129h1v1h-1zM262 131h1v1h-1zM263 130h1v1h-1zM264 131h1v1h-1zM264 129h1v1h-1zM265 132h1v1h-1zM265 128h1v1h-1zM305 127h1v1h-1zM305 131h1v1h-1zM306 128h1v1h-1zM306 130h1v1h-1zM307 129h1v1h-1zM308 130h1v1h-1zM308 128h1v1h-1zM309 131h1v1h-1zM309 127h1v1h-1zM327 125h1v1h-1zM327 129h1v1h-1zM328 126h1v1h-1zM328 128h1v1h-1zM329 127h1v1h-1zM330 128h1v1h-1zM330 126h1v1h-1zM331 129h1v1h-1zM331 125h1v1h-1zM349 112h1v1h-1zM349 116h1v1h-1zM350 113h1v1h-1zM350 115h1v1h-1zM351 114h1v1h-1zM352 115h1v1h-1zM352 113h1v1h-1zM353 116h1v1h-1zM353 112h1v1h-1zM371 112h1v1h-1zM371 116h1v1h-1zM372 113h1v1h-1zM372 115h1v1h-1zM373 114h1v1h-1zM374 115h1v1h-1zM374 113h1v1h-1zM375 116h1v1h-1zM375 112h1v1h-1zM393 77h1v1h-1zM393 81h1v1h-1zM394 78h1v1h-1zM394 80h1v1h-1zM395 79h1v1h-1zM396 80h1v1h-1zM396 78h1v1h-1zM397 81h1v1h-1zM397 77h1v1h-1zM415 77h1v1h-1zM415 81h1v1h-1zM416 78h1v1h-1zM416 80h1v1h-1zM417 79h1v1h-1zM418 80h1v1h-1zM418 78h1v1h-1zM419 81h1v1h-1zM419 77h1v1h-1zM459 78h1v1h-1zM459 82h1v1h-1zM460 79h1v1h-1zM460 81h1v1h-1zM461 80h1v1h-1zM462 81h1v1h-1zM462 79h1v1h-1zM463 82h1v1h-1zM463 78h1v1h-1zM63 161h1v1h-1zM63 165h1v1h-1zM64 162h1v1h-1zM64 164h1v1h-1zM65 163h1v1h-1zM66 164h1v1h-1zM66 162h1v1h-1zM67 165h1v1h-1zM67 161h1v1h-1zM107 161h1v1h-1zM107 165h1v1h-1zM108 162h1v1h-1zM108 164h1v1h-1zM109 163h1v1h-1zM110 164h1v1h-1zM110 162h1v1h-1zM111 165h1v1h-1zM111 161h1v1h-1zM151 145h1v1h-1zM151 149h1v1h-1zM152 146h1v1h-1zM152 148h1v1h-1zM153 147h1v1h-1zM154 148h1v1h-1zM154 146h1v1h-1zM155 149h1v1h-1zM155 145h1v1h-1zM173 133h1v1h-1zM173 137h1v1h-1zM174 134h1v1h-1zM174 136h1v1h-1zM175 135h1v1h-1zM176 136h1v1h-1zM176 134h1v1h-1zM177 137h1v1h-1zM177 133h1v1h-1zM195 133h1v1h-1zM195 137h1v1h-1zM196 134h1v1h-1zM196 136h1v1h-1zM197 135h1v1h-1zM198 136h1v1h-1zM198 134h1v1h-1zM199 137h1v1h-1zM199 133h1v1h-1zM217 133h1v1h-1zM217 137h1v1h-1zM218 134h1v1h-1zM218 136h1v1h-1zM219 135h1v1h-1zM220 136h1v1h-1zM220 134h1v1h-1zM221 137h1v1h-1zM221 133h1v1h-1zM239 151h1v1h-1zM239 155h1v1h-1zM240 152h1v1h-1zM240 154h1v1h-1zM241 153h1v1h-1zM242 154h1v1h-1zM242 152h1v1h-1zM243 155h1v1h-1zM243 151h1v1h-1zM261 151h1v1h-1zM261 155h1v1h-1zM262 152h1v1h-1zM262 154h1v1h-1zM263 153h1v1h-1zM264 154h1v1h-1zM264 152h1v1h-1zM265 155h1v1h-1zM265 151h1v1h-1zM349 151h1v1h-1zM349 155h1v1h-1zM350 152h1v1h-1zM350 154h1v1h-1zM351 153h1v1h-1zM352 154h1v1h-1zM352 152h1v1h-1zM353 155h1v1h-1zM353 151h1v1h-1zM371 144h1v1h-1zM371 148h1v1h-1zM372 145h1v1h-1zM372 147h1v1h-1zM373 146h1v1h-1zM374 147h1v1h-1zM374 145h1v1h-1zM375 148h1v1h-1zM375 144h1v1h-1zM415 147h1v1h-1zM415 151h1v1h-1zM416 148h1v1h-1zM416 150h1v1h-1zM417 149h1v1h-1zM418 150h1v1h-1zM418 148h1v1h-1zM419 151h1v1h-1zM419 147h1v1h-1zM459 149h1v1h-1zM459 153h1v1h-1zM460 150h1v1h-1zM460 152h1v1h-1zM461 151h1v1h-1zM462 152h1v1h-1zM462 150h1v1h-1zM463 153h1v1h-1zM463 149h1v1h-1zM63 108h1v1h-1zM63 112h1v1h-1zM64 109h1v1h-1zM64 111h1v1h-1zM65 110h1v1h-1zM66 111h1v1h-1zM66 109h1v1h-1zM67 112h1v1h-1zM67 108h1v1h-1zM107 98h1v1h-1zM107 102h1v1h-1zM108 99h1v1h-1zM108 101h1v1h-1zM109 100h1v1h-1zM110 101h1v1h-1zM110 99h1v1h-1zM111 102h1v1h-1zM111 98h1v1h-1zM151 93h1v1h-1zM151 97h1v1h-1zM152 94h1v1h-1zM152 96h1v1h-1zM153 95h1v1h-1zM154 96h1v1h-1zM154 94h1v1h-1zM155 97h1v1h-1zM155 93h1v1h-1zM173 93h1v1h-1zM173 97h1v1h-1zM174 94h1v1h-1zM174 96h1v1h-1zM175 95h1v1h-1zM176 96h1v1h-1zM176 94h1v1h-1zM177 97h1v1h-1zM177 93h1v1h-1zM195 124h1v1h-1zM195 128h1v1h-1zM196 125h1v1h-1zM196 127h1v1h-1zM197 126h1v1h-1zM198 127h1v1h-1zM198 125h1v1h-1zM199 128h1v1h-1zM199 124h1v1h-1zM217 93h1v1h-1zM217 97h1v1h-1zM218 94h1v1h-1zM218 96h1v1h-1zM219 95h1v1h-1zM220 96h1v1h-1zM220 94h1v1h-1zM221 97h1v1h-1zM221 93h1v1h-1zM239 89h1v1h-1zM239 93h1v1h-1zM240 90h1v1h-1zM240 92h1v1h-1zM241 91h1v1h-1zM242 92h1v1h-1zM242 90h1v1h-1zM243 93h1v1h-1zM243 89h1v1h-1zM261 116h1v1h-1zM261 120h1v1h-1zM262 117h1v1h-1zM262 119h1v1h-1zM263 118h1v1h-1zM264 119h1v1h-1zM264 117h1v1h-1zM265 120h1v1h-1zM265 116h1v1h-1zM305 116h1v1h-1zM305 120h1v1h-1zM306 117h1v1h-1zM306 119h1v1h-1zM307 118h1v1h-1zM308 119h1v1h-1zM308 117h1v1h-1zM309 120h1v1h-1zM309 116h1v1h-1zM327 113h1v1h-1zM327 117h1v1h-1zM328 114h1v1h-1zM328 116h1v1h-1zM329 115h1v1h-1zM330 116h1v1h-1zM330 114h1v1h-1zM331 117h1v1h-1zM331 113h1v1h-1zM349 79h1v1h-1zM349 83h1v1h-1zM350 80h1v1h-1zM350 82h1v1h-1zM351 81h1v1h-1zM352 82h1v1h-1zM352 80h1v1h-1zM353 83h1v1h-1zM353 79h1v1h-1zM371 98h1v1h-1zM371 102h1v1h-1zM372 99h1v1h-1zM372 101h1v1h-1zM373 100h1v1h-1zM374 101h1v1h-1zM374 99h1v1h-1zM375 102h1v1h-1zM375 98h1v1h-1zM393 68h1v1h-1zM393 72h1v1h-1zM394 69h1v1h-1zM394 71h1v1h-1zM395 70h1v1h-1zM396 71h1v1h-1zM396 69h1v1h-1zM397 72h1v1h-1zM397 68h1v1h-1zM415 68h1v1h-1zM415 72h1v1h-1zM416 69h1v1h-1zM416 71h1v1h-1zM417 70h1v1h-1zM418 71h1v1h-1zM418 69h1v1h-1zM419 72h1v1h-1zM419 68h1v1h-1zM459 80h1v1h-1zM459 84h1v1h-1zM460 81h1v1h-1zM460 83h1v1h-1zM461 82h1v1h-1zM462 83h1v1h-1zM462 81h1v1h-1zM463 84h1v1h-1zM463 80h1v1h-1zM63 131h1v1h-1zM63 135h1v1h-1zM64 132h1v1h-1zM64 134h1v1h-1zM65 133h1v1h-1zM66 134h1v1h-1zM66 132h1v1h-1zM67 135h1v1h-1zM67 131h1v1h-1zM107 126h1v1h-1zM107 130h1v1h-1zM108 127h1v1h-1zM108 129h1v1h-1zM109 128h1v1h-1zM110 129h1v1h-1zM110 127h1v1h-1zM111 130h1v1h-1zM111 126h1v1h-1zM151 123h1v1h-1zM151 127h1v1h-1zM152 124h1v1h-1zM152 126h1v1h-1zM153 125h1v1h-1zM154 126h1v1h-1zM154 124h1v1h-1zM155 127h1v1h-1zM155 123h1v1h-1zM173 115h1v1h-1zM173 119h1v1h-1zM174 116h1v1h-1zM174 118h1v1h-1zM175 117h1v1h-1zM176 118h1v1h-1zM176 116h1v1h-1zM177 119h1v1h-1zM177 115h1v1h-1zM195 115h1v1h-1zM195 119h1v1h-1zM196 116h1v1h-1zM196 118h1v1h-1zM197 117h1v1h-1zM198 118h1v1h-1zM198 116h1v1h-1zM199 119h1v1h-1zM199 115h1v1h-1zM217 114h1v1h-1zM217 118h1v1h-1zM218 115h1v1h-1zM218 117h1v1h-1zM219 116h1v1h-1zM220 117h1v1h-1zM220 115h1v1h-1zM221 118h1v1h-1zM221 114h1v1h-1zM239 115h1v1h-1zM239 119h1v1h-1zM240 116h1v1h-1zM240 118h1v1h-1zM241 117h1v1h-1zM242 118h1v1h-1zM242 116h1v1h-1zM243 119h1v1h-1zM243 115h1v1h-1zM261 116h1v1h-1zM261 120h1v1h-1zM262 117h1v1h-1zM262 119h1v1h-1zM263 118h1v1h-1zM264 119h1v1h-1zM264 117h1v1h-1zM265 120h1v1h-1zM265 116h1v1h-1zM305 124h1v1h-1zM305 128h1v1h-1zM306 125h1v1h-1zM306 127h1v1h-1zM307 126h1v1h-1zM308 127h1v1h-1zM308 125h1v1h-1zM309 128h1v1h-1zM309 124h1v1h-1zM327 125h1v1h-1zM327 129h1v1h-1zM328 126h1v1h-1zM328 128h1v1h-1zM329 127h1v1h-1zM330 128h1v1h-1zM330 126h1v1h-1zM331 129h1v1h-1zM331 125h1v1h-1zM349 125h1v1h-1zM349 129h1v1h-1zM350 126h1v1h-1zM350 128h1v1h-1zM351 127h1v1h-1zM352 128h1v1h-1zM352 126h1v1h-1zM353 129h1v1h-1zM353 125h1v1h-1zM371 117h1v1h-1zM371 121h1v1h-1zM372 118h1v1h-1zM372 120h1v1h-1zM373 119h1v1h-1zM374 120h1v1h-1zM374 118h1v1h-1zM375 121h1v1h-1zM375 117h1v1h-1zM393 119h1v1h-1zM393 123h1v1h-1zM394 120h1v1h-1zM394 122h1v1h-1zM395 121h1v1h-1zM396 122h1v1h-1zM396 120h1v1h-1zM397 123h1v1h-1zM397 119h1v1h-1zM415 116h1v1h-1zM415 120h1v1h-1zM416 117h1v1h-1zM416 119h1v1h-1zM417 118h1v1h-1zM418 119h1v1h-1zM418 117h1v1h-1zM419 120h1v1h-1zM419 116h1v1h-1zM459 117h1v1h-1zM459 121h1v1h-1zM460 118h1v1h-1zM460 120h1v1h-1zM461 119h1v1h-1zM462 120h1v1h-1zM462 118h1v1h-1zM463 121h1v1h-1zM463 117h1v1h-1zM63 155h1v1h-1zM63 159h1v1h-1zM64 156h1v1h-1zM64 158h1v1h-1zM65 157h1v1h-1zM66 158h1v1h-1zM66 156h1v1h-1zM67 159h1v1h-1zM67 155h1v1h-1zM107 151h1v1h-1zM107 155h1v1h-1zM108 152h1v1h-1zM108 154h1v1h-1zM109 153h1v1h-1zM110 154h1v1h-1zM110 152h1v1h-1zM111 155h1v1h-1zM111 151h1v1h-1zM151 146h1v1h-1zM151 150h1v1h-1zM152 147h1v1h-1zM152 149h1v1h-1zM153 148h1v1h-1zM154 149h1v1h-1zM154 147h1v1h-1zM155 150h1v1h-1zM155 146h1v1h-1zM173 139h1v1h-1zM173 143h1v1h-1zM174 140h1v1h-1zM174 142h1v1h-1zM175 141h1v1h-1zM176 142h1v1h-1zM176 140h1v1h-1zM177 143h1v1h-1zM177 139h1v1h-1zM195 139h1v1h-1zM195 143h1v1h-1zM196 140h1v1h-1zM196 142h1v1h-1zM197 141h1v1h-1zM198 142h1v1h-1zM198 140h1v1h-1zM199 143h1v1h-1zM199 139h1v1h-1zM217 137h1v1h-1zM217 141h1v1h-1zM218 138h1v1h-1zM218 140h1v1h-1zM219 139h1v1h-1zM220 140h1v1h-1zM220 138h1v1h-1zM221 141h1v1h-1zM221 137h1v1h-1zM239 139h1v1h-1zM239 143h1v1h-1zM240 140h1v1h-1zM240 142h1v1h-1zM241 141h1v1h-1zM242 142h1v1h-1zM242 140h1v1h-1zM243 143h1v1h-1zM243 139h1v1h-1zM261 142h1v1h-1zM261 146h1v1h-1zM262 143h1v1h-1zM262 145h1v1h-1zM263 144h1v1h-1zM264 145h1v1h-1zM264 143h1v1h-1zM265 146h1v1h-1zM265 142h1v1h-1zM305 150h1v1h-1zM305 154h1v1h-1zM306 151h1v1h-1zM306 153h1v1h-1zM307 152h1v1h-1zM308 153h1v1h-1zM308 151h1v1h-1zM309 154h1v1h-1zM309 150h1v1h-1zM327 150h1v1h-1zM327 154h1v1h-1zM328 151h1v1h-1zM328 153h1v1h-1zM329 152h1v1h-1zM330 153h1v1h-1zM330 151h1v1h-1zM331 154h1v1h-1zM331 150h1v1h-1zM349 149h1v1h-1zM349 153h1v1h-1zM350 150h1v1h-1zM350 152h1v1h-1zM351 151h1v1h-1zM352 152h1v1h-1zM352 150h1v1h-1zM353 153h1v1h-1zM353 149h1v1h-1zM371 143h1v1h-1zM371 147h1v1h-1zM372 144h1v1h-1zM372 146h1v1h-1zM373 145h1v1h-1zM374 146h1v1h-1zM374 144h1v1h-1zM375 147h1v1h-1zM375 143h1v1h-1zM393 137h1v1h-1zM393 141h1v1h-1zM394 138h1v1h-1zM394 140h1v1h-1zM395 139h1v1h-1zM396 140h1v1h-1zM396 138h1v1h-1zM397 141h1v1h-1zM397 137h1v1h-1zM415 141h1v1h-1zM415 145h1v1h-1zM416 142h1v1h-1zM416 144h1v1h-1zM417 143h1v1h-1zM418 144h1v1h-1zM418 142h1v1h-1zM419 145h1v1h-1zM419 141h1v1h-1zM459 143h1v1h-1zM459 147h1v1h-1zM460 144h1v1h-1zM460 146h1v1h-1zM461 145h1v1h-1zM462 146h1v1h-1zM462 144h1v1h-1zM463 147h1v1h-1zM463 143h1v1h-1zM63 176h1v1h-1zM63 180h1v1h-1zM64 177h1v1h-1zM64 179h1v1h-1zM65 178h1v1h-1zM66 179h1v1h-1zM66 177h1v1h-1zM67 180h1v1h-1zM67 176h1v1h-1zM107 174h1v1h-1zM107 178h1v1h-1zM108 175h1v1h-1zM108 177h1v1h-1zM109 176h1v1h-1zM110 177h1v1h-1zM110 175h1v1h-1zM111 178h1v1h-1zM111 174h1v1h-1zM151 168h1v1h-1zM151 172h1v1h-1zM152 169h1v1h-1zM152 171h1v1h-1zM153 170h1v1h-1zM154 171h1v1h-1zM154 169h1v1h-1zM155 172h1v1h-1zM155 168h1v1h-1zM173 168h1v1h-1zM173 172h1v1h-1zM174 169h1v1h-1zM174 171h1v1h-1zM175 170h1v1h-1zM176 171h1v1h-1zM176 169h1v1h-1zM177 172h1v1h-1zM177 168h1v1h-1zM195 168h1v1h-1zM195 172h1v1h-1zM196 169h1v1h-1zM196 171h1v1h-1zM197 170h1v1h-1zM198 171h1v1h-1zM198 169h1v1h-1zM199 172h1v1h-1zM199 168h1v1h-1zM217 168h1v1h-1zM217 172h1v1h-1zM218 169h1v1h-1zM218 171h1v1h-1zM219 170h1v1h-1zM220 171h1v1h-1zM220 169h1v1h-1zM221 172h1v1h-1zM221 168h1v1h-1zM239 168h1v1h-1zM239 172h1v1h-1zM240 169h1v1h-1zM240 171h1v1h-1zM241 170h1v1h-1zM242 171h1v1h-1zM242 169h1v1h-1zM243 172h1v1h-1zM243 168h1v1h-1zM261 171h1v1h-1zM261 175h1v1h-1zM262 172h1v1h-1zM262 174h1v1h-1zM263 173h1v1h-1zM264 174h1v1h-1zM264 172h1v1h-1zM265 175h1v1h-1zM265 171h1v1h-1zM305 178h1v1h-1zM305 182h1v1h-1zM306 179h1v1h-1zM306 181h1v1h-1zM307 180h1v1h-1zM308 181h1v1h-1zM308 179h1v1h-1zM309 182h1v1h-1zM309 178h1v1h-1zM327 177h1v1h-1zM327 181h1v1h-1zM328 178h1v1h-1zM328 180h1v1h-1zM329 179h1v1h-1zM330 180h1v1h-1zM330 178h1v1h-1zM331 181h1v1h-1zM331 177h1v1h-1zM349 176h1v1h-1zM349 180h1v1h-1zM350 177h1v1h-1zM350 179h1v1h-1zM351 178h1v1h-1zM352 179h1v1h-1zM352 177h1v1h-1zM353 180h1v1h-1zM353 176h1v1h-1zM371 160h1v1h-1zM371 164h1v1h-1zM372 161h1v1h-1zM372 163h1v1h-1zM373 162h1v1h-1zM374 163h1v1h-1zM374 161h1v1h-1zM375 164h1v1h-1zM375 160h1v1h-1zM393 159h1v1h-1zM393 163h1v1h-1zM394 160h1v1h-1zM394 162h1v1h-1zM395 161h1v1h-1zM396 162h1v1h-1zM396 160h1v1h-1zM397 163h1v1h-1zM397 159h1v1h-1zM415 161h1v1h-1zM415 165h1v1h-1zM416 162h1v1h-1zM416 164h1v1h-1zM417 163h1v1h-1zM418 164h1v1h-1zM418 162h1v1h-1zM419 165h1v1h-1zM419 161h1v1h-1zM459 164h1v1h-1zM459 168h1v1h-1zM460 165h1v1h-1zM460 167h1v1h-1zM461 166h1v1h-1zM462 167h1v1h-1zM462 165h1v1h-1zM463 168h1v1h-1zM463 164h1v1h-1zM63 176h1v1h-1zM63 180h1v1h-1zM64 177h1v1h-1zM64 179h1v1h-1zM65 178h1v1h-1zM66 179h1v1h-1zM66 177h1v1h-1zM67 180h1v1h-1zM67 176h1v1h-1zM107 173h1v1h-1zM107 177h1v1h-1zM108 174h1v1h-1zM108 176h1v1h-1zM109 175h1v1h-1zM110 176h1v1h-1zM110 174h1v1h-1zM111 177h1v1h-1zM111 173h1v1h-1zM151 168h1v1h-1zM151 172h1v1h-1zM152 169h1v1h-1zM152 171h1v1h-1zM153 170h1v1h-1zM154 171h1v1h-1zM154 169h1v1h-1zM155 172h1v1h-1zM155 168h1v1h-1zM173 160h1v1h-1zM173 164h1v1h-1zM174 161h1v1h-1zM174 163h1v1h-1zM175 162h1v1h-1zM176 163h1v1h-1zM176 161h1v1h-1zM177 164h1v1h-1zM177 160h1v1h-1zM195 172h1v1h-1zM195 176h1v1h-1zM196 173h1v1h-1zM196 175h1v1h-1zM197 174h1v1h-1zM198 175h1v1h-1zM198 173h1v1h-1zM199 176h1v1h-1zM199 172h1v1h-1zM217 170h1v1h-1zM217 174h1v1h-1zM218 171h1v1h-1zM218 173h1v1h-1zM219 172h1v1h-1zM220 173h1v1h-1zM220 171h1v1h-1zM221 174h1v1h-1zM221 170h1v1h-1zM239 169h1v1h-1zM239 173h1v1h-1zM240 170h1v1h-1zM240 172h1v1h-1zM241 171h1v1h-1zM242 172h1v1h-1zM242 170h1v1h-1zM243 173h1v1h-1zM243 169h1v1h-1zM261 170h1v1h-1zM261 174h1v1h-1zM262 171h1v1h-1zM262 173h1v1h-1zM263 172h1v1h-1zM264 173h1v1h-1zM264 171h1v1h-1zM265 174h1v1h-1zM265 170h1v1h-1zM349 169h1v1h-1zM349 173h1v1h-1zM350 170h1v1h-1zM350 172h1v1h-1zM351 171h1v1h-1zM352 172h1v1h-1zM352 170h1v1h-1zM353 173h1v1h-1zM353 169h1v1h-1zM371 167h1v1h-1zM371 171h1v1h-1zM372 168h1v1h-1zM372 170h1v1h-1zM373 169h1v1h-1zM374 170h1v1h-1zM374 168h1v1h-1zM375 171h1v1h-1zM375 167h1v1h-1zM393 163h1v1h-1zM393 167h1v1h-1zM394 164h1v1h-1zM394 166h1v1h-1zM395 165h1v1h-1zM396 166h1v1h-1zM396 164h1v1h-1zM397 167h1v1h-1zM397 163h1v1h-1zM415 179h1v1h-1zM415 183h1v1h-1zM416 180h1v1h-1zM416 182h1v1h-1zM417 181h1v1h-1zM418 182h1v1h-1zM418 180h1v1h-1zM419 183h1v1h-1zM419 179h1v1h-1zM63 164h1v1h-1zM63 168h1v1h-1zM64 165h1v1h-1zM64 167h1v1h-1zM65 166h1v1h-1zM66 167h1v1h-1zM66 165h1v1h-1zM67 168h1v1h-1zM67 164h1v1h-1zM107 164h1v1h-1zM107 168h1v1h-1zM108 165h1v1h-1zM108 167h1v1h-1zM109 166h1v1h-1zM110 167h1v1h-1zM110 165h1v1h-1zM111 168h1v1h-1zM111 164h1v1h-1zM151 145h1v1h-1zM151 149h1v1h-1zM152 146h1v1h-1zM152 148h1v1h-1zM153 147h1v1h-1zM154 148h1v1h-1zM154 146h1v1h-1zM155 149h1v1h-1zM155 145h1v1h-1zM173 145h1v1h-1zM173 149h1v1h-1zM174 146h1v1h-1zM174 148h1v1h-1zM175 147h1v1h-1zM176 148h1v1h-1zM176 146h1v1h-1zM177 149h1v1h-1zM177 145h1v1h-1zM195 145h1v1h-1zM195 149h1v1h-1zM196 146h1v1h-1zM196 148h1v1h-1zM197 147h1v1h-1zM198 148h1v1h-1zM198 146h1v1h-1zM199 149h1v1h-1zM199 145h1v1h-1zM217 145h1v1h-1zM217 149h1v1h-1zM218 146h1v1h-1zM218 148h1v1h-1zM219 147h1v1h-1zM220 148h1v1h-1zM220 146h1v1h-1zM221 149h1v1h-1zM221 145h1v1h-1zM239 145h1v1h-1zM239 149h1v1h-1zM240 146h1v1h-1zM240 148h1v1h-1zM241 147h1v1h-1zM242 148h1v1h-1zM242 146h1v1h-1zM243 149h1v1h-1zM243 145h1v1h-1zM261 157h1v1h-1zM261 161h1v1h-1zM262 158h1v1h-1zM262 160h1v1h-1zM263 159h1v1h-1zM264 160h1v1h-1zM264 158h1v1h-1zM265 161h1v1h-1zM265 157h1v1h-1zM305 157h1v1h-1zM305 161h1v1h-1zM306 158h1v1h-1zM306 160h1v1h-1zM307 159h1v1h-1zM308 160h1v1h-1zM308 158h1v1h-1zM309 161h1v1h-1zM309 157h1v1h-1zM327 145h1v1h-1zM327 149h1v1h-1zM328 146h1v1h-1zM328 148h1v1h-1zM329 147h1v1h-1zM330 148h1v1h-1zM330 146h1v1h-1zM331 149h1v1h-1zM331 145h1v1h-1zM349 145h1v1h-1zM349 149h1v1h-1zM350 146h1v1h-1zM350 148h1v1h-1zM351 147h1v1h-1zM352 148h1v1h-1zM352 146h1v1h-1zM353 149h1v1h-1zM353 145h1v1h-1zM371 145h1v1h-1zM371 149h1v1h-1zM372 146h1v1h-1zM372 148h1v1h-1zM373 147h1v1h-1zM374 148h1v1h-1zM374 146h1v1h-1zM375 149h1v1h-1zM375 145h1v1h-1zM393 145h1v1h-1zM393 149h1v1h-1zM394 146h1v1h-1zM394 148h1v1h-1zM395 147h1v1h-1zM396 148h1v1h-1zM396 146h1v1h-1zM397 149h1v1h-1zM397 145h1v1h-1zM415 145h1v1h-1zM415 149h1v1h-1zM416 146h1v1h-1zM416 148h1v1h-1zM417 147h1v1h-1zM418 148h1v1h-1zM418 146h1v1h-1zM419 149h1v1h-1zM419 145h1v1h-1zM459 145h1v1h-1zM459 149h1v1h-1zM460 146h1v1h-1zM460 148h1v1h-1zM461 147h1v1h-1zM462 148h1v1h-1zM462 146h1v1h-1zM463 149h1v1h-1zM463 145h1v1h-1zM63 184h1v1h-1zM63 188h1v1h-1zM64 185h1v1h-1zM64 187h1v1h-1zM65 186h1v1h-1zM66 187h1v1h-1zM66 185h1v1h-1zM67 188h1v1h-1zM67 184h1v1h-1zM107 184h1v1h-1zM107 188h1v1h-1zM108 185h1v1h-1zM108 187h1v1h-1zM109 186h1v1h-1zM110 187h1v1h-1zM110 185h1v1h-1zM111 188h1v1h-1zM111 184h1v1h-1zM151 164h1v1h-1zM151 168h1v1h-1zM152 165h1v1h-1zM152 167h1v1h-1zM153 166h1v1h-1zM154 167h1v1h-1zM154 165h1v1h-1zM155 168h1v1h-1zM155 164h1v1h-1zM173 153h1v1h-1zM173 157h1v1h-1zM174 154h1v1h-1zM174 156h1v1h-1zM175 155h1v1h-1zM176 156h1v1h-1zM176 154h1v1h-1zM177 157h1v1h-1zM177 153h1v1h-1zM195 153h1v1h-1zM195 157h1v1h-1zM196 154h1v1h-1zM196 156h1v1h-1zM197 155h1v1h-1zM198 156h1v1h-1zM198 154h1v1h-1zM199 157h1v1h-1zM199 153h1v1h-1zM217 154h1v1h-1zM217 158h1v1h-1zM218 155h1v1h-1zM218 157h1v1h-1zM219 156h1v1h-1zM220 157h1v1h-1zM220 155h1v1h-1zM221 158h1v1h-1zM221 154h1v1h-1zM239 164h1v1h-1zM239 168h1v1h-1zM240 165h1v1h-1zM240 167h1v1h-1zM241 166h1v1h-1zM242 167h1v1h-1zM242 165h1v1h-1zM243 168h1v1h-1zM243 164h1v1h-1zM261 164h1v1h-1zM261 168h1v1h-1zM262 165h1v1h-1zM262 167h1v1h-1zM263 166h1v1h-1zM264 167h1v1h-1zM264 165h1v1h-1zM265 168h1v1h-1zM265 164h1v1h-1zM349 164h1v1h-1zM349 168h1v1h-1zM350 165h1v1h-1zM350 167h1v1h-1zM351 166h1v1h-1zM352 167h1v1h-1zM352 165h1v1h-1zM353 168h1v1h-1zM353 164h1v1h-1zM371 163h1v1h-1zM371 167h1v1h-1zM372 164h1v1h-1zM372 166h1v1h-1zM373 165h1v1h-1zM374 166h1v1h-1zM374 164h1v1h-1zM375 167h1v1h-1zM375 163h1v1h-1zM393 163h1v1h-1zM393 167h1v1h-1zM394 164h1v1h-1zM394 166h1v1h-1zM395 165h1v1h-1zM396 166h1v1h-1zM396 164h1v1h-1zM397 167h1v1h-1zM397 163h1v1h-1zM415 161h1v1h-1zM415 165h1v1h-1zM416 162h1v1h-1zM416 164h1v1h-1zM417 163h1v1h-1zM418 164h1v1h-1zM418 162h1v1h-1zM419 165h1v1h-1zM419 161h1v1h-1zM459 168h1v1h-1zM459 172h1v1h-1zM460 169h1v1h-1zM460 171h1v1h-1zM461 170h1v1h-1zM462 171h1v1h-1zM462 169h1v1h-1zM463 172h1v1h-1zM463 168h1v1h-1zM63 126h1v1h-1zM63 130h1v1h-1zM64 127h1v1h-1zM64 129h1v1h-1zM65 128h1v1h-1zM66 129h1v1h-1zM66 127h1v1h-1zM67 130h1v1h-1zM67 126h1v1h-1zM107 126h1v1h-1zM107 130h1v1h-1zM108 127h1v1h-1zM108 129h1v1h-1zM109 128h1v1h-1zM110 129h1v1h-1zM110 127h1v1h-1zM111 130h1v1h-1zM111 126h1v1h-1zM151 106h1v1h-1zM151 110h1v1h-1zM152 107h1v1h-1zM152 109h1v1h-1zM153 108h1v1h-1zM154 109h1v1h-1zM154 107h1v1h-1zM155 110h1v1h-1zM155 106h1v1h-1zM173 106h1v1h-1zM173 110h1v1h-1zM174 107h1v1h-1zM174 109h1v1h-1zM175 108h1v1h-1zM176 109h1v1h-1zM176 107h1v1h-1zM177 110h1v1h-1zM177 106h1v1h-1zM195 106h1v1h-1zM195 110h1v1h-1zM196 107h1v1h-1zM196 109h1v1h-1zM197 108h1v1h-1zM198 109h1v1h-1zM198 107h1v1h-1zM199 110h1v1h-1zM199 106h1v1h-1zM217 106h1v1h-1zM217 110h1v1h-1zM218 107h1v1h-1zM218 109h1v1h-1zM219 108h1v1h-1zM220 109h1v1h-1zM220 107h1v1h-1zM221 110h1v1h-1zM221 106h1v1h-1zM239 106h1v1h-1zM239 110h1v1h-1zM240 107h1v1h-1zM240 109h1v1h-1zM241 108h1v1h-1zM242 109h1v1h-1zM242 107h1v1h-1zM243 110h1v1h-1zM243 106h1v1h-1zM261 126h1v1h-1zM261 130h1v1h-1zM262 127h1v1h-1zM262 129h1v1h-1zM263 128h1v1h-1zM264 129h1v1h-1zM264 127h1v1h-1zM265 130h1v1h-1zM265 126h1v1h-1zM305 126h1v1h-1zM305 130h1v1h-1zM306 127h1v1h-1zM306 129h1v1h-1zM307 128h1v1h-1zM308 129h1v1h-1zM308 127h1v1h-1zM309 130h1v1h-1zM309 126h1v1h-1zM327 106h1v1h-1zM327 110h1v1h-1zM328 107h1v1h-1zM328 109h1v1h-1zM329 108h1v1h-1zM330 109h1v1h-1zM330 107h1v1h-1zM331 110h1v1h-1zM331 106h1v1h-1zM349 106h1v1h-1zM349 110h1v1h-1zM350 107h1v1h-1zM350 109h1v1h-1zM351 108h1v1h-1zM352 109h1v1h-1zM352 107h1v1h-1zM353 110h1v1h-1zM353 106h1v1h-1zM371 106h1v1h-1zM371 110h1v1h-1zM372 107h1v1h-1zM372 109h1v1h-1zM373 108h1v1h-1zM374 109h1v1h-1zM374 107h1v1h-1zM375 110h1v1h-1zM375 106h1v1h-1zM393 106h1v1h-1zM393 110h1v1h-1zM394 107h1v1h-1zM394 109h1v1h-1zM395 108h1v1h-1zM396 109h1v1h-1zM396 107h1v1h-1zM397 110h1v1h-1zM397 106h1v1h-1zM415 106h1v1h-1zM415 110h1v1h-1zM416 107h1v1h-1zM416 109h1v1h-1zM417 108h1v1h-1zM418 109h1v1h-1zM418 107h1v1h-1zM419 110h1v1h-1zM419 106h1v1h-1zM459 106h1v1h-1zM459 110h1v1h-1zM460 107h1v1h-1zM460 109h1v1h-1zM461 108h1v1h-1zM462 109h1v1h-1zM462 107h1v1h-1zM463 110h1v1h-1zM463 106h1v1h-1zM63 213h1v1h-1zM63 217h1v1h-1zM64 214h1v1h-1zM64 216h1v1h-1zM65 215h1v1h-1zM66 216h1v1h-1zM66 214h1v1h-1zM67 217h1v1h-1zM67 213h1v1h-1zM107 210h1v1h-1zM107 214h1v1h-1zM108 211h1v1h-1zM108 213h1v1h-1zM109 212h1v1h-1zM110 213h1v1h-1zM110 211h1v1h-1zM111 214h1v1h-1zM111 210h1v1h-1zM151 203h1v1h-1zM151 207h1v1h-1zM152 204h1v1h-1zM152 206h1v1h-1zM153 205h1v1h-1zM154 206h1v1h-1zM154 204h1v1h-1zM155 207h1v1h-1zM155 203h1v1h-1zM173 203h1v1h-1zM173 207h1v1h-1zM174 204h1v1h-1zM174 206h1v1h-1zM175 205h1v1h-1zM176 206h1v1h-1zM176 204h1v1h-1zM177 207h1v1h-1zM177 203h1v1h-1zM195 204h1v1h-1zM195 208h1v1h-1zM196 205h1v1h-1zM196 207h1v1h-1zM197 206h1v1h-1zM198 207h1v1h-1zM198 205h1v1h-1zM199 208h1v1h-1zM199 204h1v1h-1zM217 193h1v1h-1zM217 197h1v1h-1zM218 194h1v1h-1zM218 196h1v1h-1zM219 195h1v1h-1zM220 196h1v1h-1zM220 194h1v1h-1zM221 197h1v1h-1zM221 193h1v1h-1zM239 199h1v1h-1zM239 203h1v1h-1zM240 200h1v1h-1zM240 202h1v1h-1zM241 201h1v1h-1zM242 202h1v1h-1zM242 200h1v1h-1zM243 203h1v1h-1zM243 199h1v1h-1zM327 193h1v1h-1zM327 197h1v1h-1zM328 194h1v1h-1zM328 196h1v1h-1zM329 195h1v1h-1zM330 196h1v1h-1zM330 194h1v1h-1zM331 197h1v1h-1zM331 193h1v1h-1zM349 190h1v1h-1zM349 194h1v1h-1zM350 191h1v1h-1zM350 193h1v1h-1zM351 192h1v1h-1zM352 193h1v1h-1zM352 191h1v1h-1zM353 194h1v1h-1zM353 190h1v1h-1zM371 196h1v1h-1zM371 200h1v1h-1zM372 197h1v1h-1zM372 199h1v1h-1zM373 198h1v1h-1zM374 199h1v1h-1zM374 197h1v1h-1zM375 200h1v1h-1zM375 196h1v1h-1zM393 188h1v1h-1zM393 192h1v1h-1zM394 189h1v1h-1zM394 191h1v1h-1zM395 190h1v1h-1zM396 191h1v1h-1zM396 189h1v1h-1zM397 192h1v1h-1zM397 188h1v1h-1zM415 184h1v1h-1zM415 188h1v1h-1zM416 185h1v1h-1zM416 187h1v1h-1zM417 186h1v1h-1zM418 187h1v1h-1zM418 185h1v1h-1zM419 188h1v1h-1zM419 184h1v1h-1zM459 191h1v1h-1zM459 195h1v1h-1zM460 192h1v1h-1zM460 194h1v1h-1zM461 193h1v1h-1zM462 194h1v1h-1zM462 192h1v1h-1zM463 195h1v1h-1zM463 191h1v1h-1zM63 164h1v1h-1zM63 168h1v1h-1zM64 165h1v1h-1zM64 167h1v1h-1zM65 166h1v1h-1zM66 167h1v1h-1zM66 165h1v1h-1zM67 168h1v1h-1zM67 164h1v1h-1zM107 164h1v1h-1zM107 168h1v1h-1zM108 165h1v1h-1zM108 167h1v1h-1zM109 166h1v1h-1zM110 167h1v1h-1zM110 165h1v1h-1zM111 168h1v1h-1zM111 164h1v1h-1zM151 153h1v1h-1zM151 157h1v1h-1zM152 154h1v1h-1zM152 156h1v1h-1zM153 155h1v1h-1zM154 156h1v1h-1zM154 154h1v1h-1zM155 157h1v1h-1zM155 153h1v1h-1zM173 141h1v1h-1zM173 145h1v1h-1zM174 142h1v1h-1zM174 144h1v1h-1zM175 143h1v1h-1zM176 144h1v1h-1zM176 142h1v1h-1zM177 145h1v1h-1zM177 141h1v1h-1zM195 141h1v1h-1zM195 145h1v1h-1zM196 142h1v1h-1zM196 144h1v1h-1zM197 143h1v1h-1zM198 144h1v1h-1zM198 142h1v1h-1zM199 145h1v1h-1zM199 141h1v1h-1zM217 141h1v1h-1zM217 145h1v1h-1zM218 142h1v1h-1zM218 144h1v1h-1zM219 143h1v1h-1zM220 144h1v1h-1zM220 142h1v1h-1zM221 145h1v1h-1zM221 141h1v1h-1zM239 161h1v1h-1zM239 165h1v1h-1zM240 162h1v1h-1zM240 164h1v1h-1zM241 163h1v1h-1zM242 164h1v1h-1zM242 162h1v1h-1zM243 165h1v1h-1zM243 161h1v1h-1zM261 161h1v1h-1zM261 165h1v1h-1zM262 162h1v1h-1zM262 164h1v1h-1zM263 163h1v1h-1zM264 164h1v1h-1zM264 162h1v1h-1zM265 165h1v1h-1zM265 161h1v1h-1zM349 161h1v1h-1zM349 165h1v1h-1zM350 162h1v1h-1zM350 164h1v1h-1zM351 163h1v1h-1zM352 164h1v1h-1zM352 162h1v1h-1zM353 165h1v1h-1zM353 161h1v1h-1zM371 160h1v1h-1zM371 164h1v1h-1zM372 161h1v1h-1zM372 163h1v1h-1zM373 162h1v1h-1zM374 163h1v1h-1zM374 161h1v1h-1zM375 164h1v1h-1zM375 160h1v1h-1zM393 156h1v1h-1zM393 160h1v1h-1zM394 157h1v1h-1zM394 159h1v1h-1zM395 158h1v1h-1zM396 159h1v1h-1zM396 157h1v1h-1zM397 160h1v1h-1zM397 156h1v1h-1zM415 150h1v1h-1zM415 154h1v1h-1zM416 151h1v1h-1zM416 153h1v1h-1zM417 152h1v1h-1zM418 153h1v1h-1zM418 151h1v1h-1zM419 154h1v1h-1zM419 150h1v1h-1zM459 157h1v1h-1zM459 161h1v1h-1zM460 158h1v1h-1zM460 160h1v1h-1zM461 159h1v1h-1zM462 160h1v1h-1zM462 158h1v1h-1zM463 161h1v1h-1zM463 157h1v1h-1z" fill="#000" shape-rendering="crispEdges"/>
<rect x="776.5" y="50.5" width="170" height="243" fill="#fff" stroke="#808080" stroke-width="1" shape-rendering="crispEdges"/>
<rect x="781" y="58" width="11" height="2" fill="#f58c50"/>
<text x="801" y="62" font-size="11" fill="#000" textLength="57.78" lengthAdjust="spacing">MOONG - I</text>
<rect x="781" y="73" width="11" height="2" fill="#8ec65c"/>
<text x="801" y="77" font-size="11" fill="#000" textLength="61.02" lengthAdjust="spacing">MOONG - II</text>
<rect x="781" y="88" width="11" height="2" fill="#ee5a00"/>
<text x="801" y="92" font-size="11" fill="#000" textLength="70.44" lengthAdjust="spacing">MOONG AVG</text>
<rect x="781" y="103" width="11" height="2" fill="#2418c0"/>
<text x="801" y="107" font-size="11" fill="#000" textLength="105.22" lengthAdjust="spacing">MOONG BAGS LOW</text>
<rect x="781" y="118" width="11" height="2" fill="#8c3282"/>
<text x="801" y="122" font-size="11" fill="#000" textLength="77.17" lengthAdjust="spacing">MOONG BOLD</text>
<rect x="781" y="133" width="11" height="2" fill="#3ccdcd"/>
<text x="801" y="137" font-size="11" fill="#000" textLength="89.48" lengthAdjust="spacing">MOONG CHAMKI</text>
<rect x="781" y="148" width="11" height="2" fill="#b4195a"/>
<text x="801" y="152" font-size="11" fill="#000" textLength="113.91" lengthAdjust="spacing">MOONG EXTRA BOLD</text>
<rect x="781" y="163" width="11" height="2" fill="#78af50"/>
<text x="801" y="167" font-size="11" fill="#000" textLength="110.44" lengthAdjust="spacing">MOONG GADAG 1ST</text>
<rect x="781" y="178" width="11" height="2" fill="#d70f32"/>
<text x="801" y="182" font-size="11" fill="#000" textLength="113.44" lengthAdjust="spacing">MOONG GADAG 2ND</text>
<rect x="781" y="193" width="11" height="2" fill="#19375a"/>
<text x="801" y="197" font-size="11" fill="#000" textLength="111.36" lengthAdjust="spacing">MOONG GADAG 3RD</text>
<rect x="781" y="208" width="11" height="2" fill="#50ff00"/>
<text x="801" y="212" font-size="11" fill="#000" textLength="73.88" lengthAdjust="spacing">MOONG HIGH</text>
<rect x="781" y="223" width="11" height="2" fill="#14dc96"/>
<text x="801" y="227" font-size="11" fill="#000" textLength="90.77" lengthAdjust="spacing">MOONG MEDIUM</text>
<rect x="781" y="238" width="11" height="2" fill="#230578"/>
<text x="801" y="242" font-size="11" fill="#000" textLength="97.41" lengthAdjust="spacing">MOONG MOGALAI</text>
<rect x="781" y="253" width="11" height="2" fill="#820abe"/>
<text x="801" y="257" font-size="11" fill="#000" textLength="136.70" lengthAdjust="spacing">MOONG MP POLISH BOLD</text>
<rect x="781" y="268" width="11" height="2" fill="#aae6b4"/>
<text x="801" y="272" font-size="11" fill="#000" textLength="72.62" lengthAdjust="spacing">MOONG NEW</text>
<rect x="781" y="283" width="11" height="2" fill="#32cd3c"/>
<text x="801" y="287" font-size="11" fill="#000" textLength="130.47" lengthAdjust="spacing">MOONG PARROT GREEN</text>
<path d="M783 56h1v1h-1zM783 62h1v1h-1zM784 57h1v1h-1zM784 61h1v1h-1zM785 58h1v1h-1zM785 60h1v1h-1zM786 59h1v1h-1zM787 60h1v1h-1zM787 58h1v1h-1zM788 61h1v1h-1zM788 57h1v1h-1zM789 62h1v1h-1zM789 56h1v1h-1zM783 71h1v1h-1zM783 77h1v1h-1zM784 72h1v1h-1zM784 76h1v1h-1zM785 73h1v1h-1zM785 75h1v1h-1zM786 74h1v1h-1zM787 75h1v1h-1zM787 73h1v1h-1zM788 76h1v1h-1zM788 72h1v1h-1zM789 77h1v1h-1zM789 71h1v1h-1zM783 86h1v1h-1zM783 92h1v1h-1zM784 87h1v1h-1zM784 91h1v1h-1zM785 88h1v1h-1zM785 90h1v1h-1zM786 89h1v1h-1zM787 90h1v1h-1zM787 88h1v1h-1zM788 91h1v1h-1zM788 87h1v1h-1zM789 92h1v1h-1zM789 86h1v1h-1zM783 101h1v1h-1zM783 107h1v1h-1zM784 102h1v1h-1zM784 106h1v1h-1zM785 103h1v1h-1zM785 105h1v1h-1zM786 104h1v1h-1zM787 105h1v1h-1zM787 103h1v1h-1zM788 106h1v1h-1zM788 102h1v1h-1zM789 107h1v1h-1zM789 101h1v1h-1zM783 116h1v1h-1zM783 122h1v1h-1zM784 117h1v1h-1zM784 121h1v1h-1zM785 118h1v1h-1zM785 120h1v1h-1zM786 119h1v1h-1zM787 120h1v1h-1zM787 118h1v1h-1zM788 121h1v1h-1zM788 117h1v1h-1zM789 122h1v1h-1zM789 116h1v1h-1zM783 131h1v1h-1zM783 137h1v1h-1zM784 132h1v1h-1zM784 136h1v1h-1zM785 133h1v1h-1zM785 135h1v1h-1zM786 134h1v1h-1zM787 135h1v1h-1zM787 133h1v1h-1zM788 136h1v1h-1zM788 132h1v1h-1zM789 137h1v1h-1zM789 131h1v1h-1zM783 146h1v1h-1zM783 152h1v1h-1zM784 147h1v1h-1zM784 151h1v1h-1zM785 148h1v1h-1zM785 150h1v1h-1zM786 149h1v1h-1zM787 150h1v1h-1zM787 148h1v1h-1zM788 151h1v1h-1zM788 147h1v1h-1zM789 152h1v1h-1zM789 146h1v1h-1zM783 161h1v1h-1zM783 167h1v1h-1zM784 162h1v1h-1zM784 166h1v1h-1zM785 163h1v1h-1zM785 165h1v1h-1zM786 164h1v1h-1zM787 165h1v1h-1zM787 163h1v1h-1zM788 166h1v1h-1zM788 162h1v1h-1zM789 167h1v1h-1zM789 161h1v1h-1zM783 176h1v1h-1zM783 182h1v1h-1zM784 177h1v1h-1zM784 181h1v1h-1zM785 178h1v1h-1zM785 180h1v1h-1zM786 179h1v1h-1zM787 180h1v1h-1zM787 178h1v1h-1zM788 181h1v1h-1zM788 177h1v1h-1zM789 182h1v1h-1zM789 176h1v1h-1zM783 191h1v1h-1zM783 197h1v1h-1zM784 192h1v1h-1zM784 196h1v1h-1zM785 193h1v1h-1zM785 195h1v1h-1zM786 194h1v1h-1zM787 195h1v1h-1zM787 193h1v1h-1zM788 196h1v1h-1zM788 192h1v1h-1zM789 197h1v1h-1zM789 191h1v1h-1zM783 206h1v1h-1zM783 212h1v1h-1zM784 207h1v1h-1zM784 211h1v1h-1zM785 208h1v1h-1zM785 210h1v1h-1zM786 209h1v1h-1zM787 210h1v1h-1zM787 208h1v1h-1zM788 211h1v1h-1zM788 207h1v1h-1zM789 212h1v1h-1zM789 206h1v1h-1zM783 221h1v1h-1zM783 227h1v1h-1zM784 222h1v1h-1zM784 226h1v1h-1zM785 223h1v1h-1zM785 225h1v1h-1zM786 224h1v1h-1zM787 225h1v1h-1zM787 223h1v1h-1zM788 226h1v1h-1zM788 222h1v1h-1zM789 227h1v1h-1zM789 221h1v1h-1zM783 236h1v1h-1zM783 242h1v1h-1zM784 237h1v1h-1zM784 241h1v1h-1zM785 238h1v1h-1zM785 240h1v1h-1zM786 239h1v1h-1zM787 240h1v1h-1zM787 238h1v1h-1zM788 241h1v1h-1zM788 237h1v1h-1zM789 242h1v1h-1zM789 236h1v1h-1zM783 251h1v1h-1zM783 257h1v1h-1zM784 252h1v1h-1zM784 256h1v1h-1zM785 253h1v1h-1zM785 255h1v1h-1zM786 254h1v1h-1zM787 255h1v1h-1zM787 253h1v1h-1zM788 256h1v1h-1zM788 252h1v1h-1zM789 257h1v1h-1zM789 251h1v1h-1zM783 266h1v1h-1zM783 272h1v1h-1zM784 267h1v1h-1zM784 271h1v1h-1zM785 268h1v1h-1zM785 270h1v1h-1zM786 269h1v1h-1zM787 270h1v1h-1zM787 268h1v1h-1zM788 271h1v1h-1zM788 267h1v1h-1zM789 272h1v1h-1zM789 266h1v1h-1zM783 281h1v1h-1zM783 287h1v1h-1zM784 282h1v1h-1zM784 286h1v1h-1zM785 283h1v1h-1zM785 285h1v1h-1zM786 284h1v1h-1zM787 285h1v1h-1zM787 283h1v1h-1zM788 286h1v1h-1zM788 282h1v1h-1zM789 287h1v1h-1zM789 281h1v1h-1z" fill="#000" shape-rendering="crispEdges"/>
</svg></body></html>
